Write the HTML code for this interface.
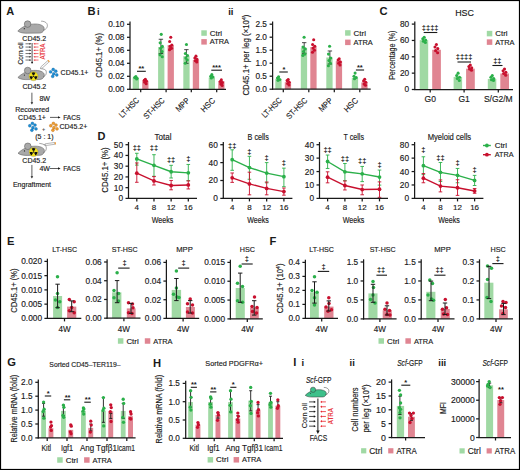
<!DOCTYPE html><html><head><meta charset="utf-8"><style>html,body{margin:0;padding:0;background:#fff;}svg{display:block;}text{font-family:"Liberation Sans", sans-serif;}</style></head><body>
<svg width="520" height="470" viewBox="0 0 520 470" fill="#1a1a1a">
<rect x="0" y="0" width="520" height="470" fill="#fff"/>
<text x="87.6" y="14.9" font-size="11.2" font-weight="bold">B</text>
<text x="97" y="14.9" font-size="9.5" font-weight="bold">i</text>
<rect x="132.7" y="77.6" width="6.3" height="11.7" fill="#a0d9a4"/>
<rect x="142.2" y="80.85" width="6.3" height="8.45" fill="#e08592"/>
<rect x="158.1" y="47.05" width="6.3" height="42.25" fill="#a0d9a4"/>
<rect x="167.6" y="45.1" width="6.3" height="44.2" fill="#e08592"/>
<rect x="183.3" y="56.15" width="6.3" height="33.15" fill="#a0d9a4"/>
<rect x="192.8" y="60.05" width="6.3" height="29.25" fill="#e08592"/>
<rect x="208.7" y="77.6" width="6.3" height="11.7" fill="#a0d9a4"/>
<rect x="218.2" y="81.24" width="6.3" height="8.06" fill="#e08592"/>
<line x1="160.9" y1="39.25" x2="160.9" y2="53.55" stroke="#1a1a1a" stroke-width="0.8"/>
<line x1="158.7" y1="39.25" x2="163.1" y2="39.25" stroke="#1a1a1a" stroke-width="0.8"/>
<line x1="158.7" y1="53.55" x2="163.1" y2="53.55" stroke="#1a1a1a" stroke-width="0.8"/>
<line x1="186.4" y1="49.65" x2="186.4" y2="63.3" stroke="#1a1a1a" stroke-width="0.8"/>
<line x1="184.2" y1="49.65" x2="188.6" y2="49.65" stroke="#1a1a1a" stroke-width="0.8"/>
<line x1="184.2" y1="63.3" x2="188.6" y2="63.3" stroke="#1a1a1a" stroke-width="0.8"/>
<line x1="130" y1="21.6" x2="130" y2="89.9" stroke="#1a1a1a" stroke-width="1.25"/>
<line x1="127" y1="89.3" x2="130" y2="89.3" stroke="#1a1a1a" stroke-width="1.25"/>
<text x="124.4" y="92.29" font-size="8.3" text-anchor="end" stroke="#1a1a1a" stroke-width="0.15">0.00</text>
<line x1="127" y1="76.3" x2="130" y2="76.3" stroke="#1a1a1a" stroke-width="1.25"/>
<text x="124.4" y="79.29" font-size="8.3" text-anchor="end" stroke="#1a1a1a" stroke-width="0.15">0.02</text>
<line x1="127" y1="63.3" x2="130" y2="63.3" stroke="#1a1a1a" stroke-width="1.25"/>
<text x="124.4" y="66.29" font-size="8.3" text-anchor="end" stroke="#1a1a1a" stroke-width="0.15">0.04</text>
<line x1="127" y1="50.3" x2="130" y2="50.3" stroke="#1a1a1a" stroke-width="1.25"/>
<text x="124.4" y="53.29" font-size="8.3" text-anchor="end" stroke="#1a1a1a" stroke-width="0.15">0.06</text>
<line x1="127" y1="37.3" x2="130" y2="37.3" stroke="#1a1a1a" stroke-width="1.25"/>
<text x="124.4" y="40.29" font-size="8.3" text-anchor="end" stroke="#1a1a1a" stroke-width="0.15">0.08</text>
<line x1="127" y1="24.3" x2="130" y2="24.3" stroke="#1a1a1a" stroke-width="1.25"/>
<text x="124.4" y="27.29" font-size="8.3" text-anchor="end" stroke="#1a1a1a" stroke-width="0.15">0.10</text>
<line x1="129.4" y1="89.3" x2="226" y2="89.3" stroke="#1a1a1a" stroke-width="1.25"/>
<line x1="140.7" y1="89.3" x2="140.7" y2="92.3" stroke="#1a1a1a" stroke-width="1.25"/>
<line x1="166.1" y1="89.3" x2="166.1" y2="92.3" stroke="#1a1a1a" stroke-width="1.25"/>
<line x1="191.3" y1="89.3" x2="191.3" y2="92.3" stroke="#1a1a1a" stroke-width="1.25"/>
<line x1="216.7" y1="89.3" x2="216.7" y2="92.3" stroke="#1a1a1a" stroke-width="1.25"/>
<circle cx="135.85" cy="76.62" r="1.55" fill="#2bb04a"/>
<circle cx="134.75" cy="77.6" r="1.55" fill="#2bb04a"/>
<circle cx="136.95" cy="78.25" r="1.55" fill="#2bb04a"/>
<circle cx="135.25" cy="77.28" r="1.55" fill="#2bb04a"/>
<circle cx="136.65" cy="78.9" r="1.55" fill="#2bb04a"/>
<circle cx="145.35" cy="79.22" r="1.55" fill="#c8102e"/>
<circle cx="144.25" cy="80.2" r="1.55" fill="#c8102e"/>
<circle cx="146.45" cy="81.17" r="1.55" fill="#c8102e"/>
<circle cx="144.75" cy="82.15" r="1.55" fill="#c8102e"/>
<circle cx="146.15" cy="83.77" r="1.55" fill="#c8102e"/>
<circle cx="161.25" cy="34.37" r="1.55" fill="#2bb04a"/>
<circle cx="160.15" cy="42.83" r="1.55" fill="#2bb04a"/>
<circle cx="162.35" cy="46.4" r="1.55" fill="#2bb04a"/>
<circle cx="160.65" cy="48.35" r="1.55" fill="#2bb04a"/>
<circle cx="162.05" cy="51.6" r="1.55" fill="#2bb04a"/>
<circle cx="160.05" cy="54.85" r="1.55" fill="#2bb04a"/>
<circle cx="162.25" cy="56.8" r="1.55" fill="#2bb04a"/>
<circle cx="170.75" cy="37.3" r="1.55" fill="#c8102e"/>
<circle cx="169.65" cy="41.52" r="1.55" fill="#c8102e"/>
<circle cx="171.85" cy="45.1" r="1.55" fill="#c8102e"/>
<circle cx="170.15" cy="46.4" r="1.55" fill="#c8102e"/>
<circle cx="171.55" cy="48.35" r="1.55" fill="#c8102e"/>
<circle cx="169.55" cy="49.65" r="1.55" fill="#c8102e"/>
<circle cx="186.45" cy="44.45" r="1.55" fill="#2bb04a"/>
<circle cx="185.35" cy="53.55" r="1.55" fill="#2bb04a"/>
<circle cx="187.55" cy="55.5" r="1.55" fill="#2bb04a"/>
<circle cx="185.85" cy="58.1" r="1.55" fill="#2bb04a"/>
<circle cx="187.25" cy="60.05" r="1.55" fill="#2bb04a"/>
<circle cx="185.25" cy="63.3" r="1.55" fill="#2bb04a"/>
<circle cx="195.95" cy="56.15" r="1.55" fill="#c8102e"/>
<circle cx="194.85" cy="58.1" r="1.55" fill="#c8102e"/>
<circle cx="197.05" cy="59.4" r="1.55" fill="#c8102e"/>
<circle cx="195.35" cy="60.7" r="1.55" fill="#c8102e"/>
<circle cx="196.75" cy="62" r="1.55" fill="#c8102e"/>
<circle cx="211.85" cy="74.67" r="1.55" fill="#2bb04a"/>
<circle cx="210.75" cy="76.3" r="1.55" fill="#2bb04a"/>
<circle cx="212.95" cy="76.95" r="1.55" fill="#2bb04a"/>
<circle cx="211.25" cy="77.92" r="1.55" fill="#2bb04a"/>
<circle cx="221.35" cy="79.88" r="1.55" fill="#c8102e"/>
<circle cx="220.25" cy="81.5" r="1.55" fill="#c8102e"/>
<circle cx="222.45" cy="82.47" r="1.55" fill="#c8102e"/>
<circle cx="220.75" cy="84.1" r="1.55" fill="#c8102e"/>
<circle cx="222.15" cy="85.4" r="1.55" fill="#c8102e"/>
<text x="101.9" y="55.35" font-size="8.3" text-anchor="middle" stroke="#1a1a1a" stroke-width="0.15" transform="rotate(-90 101.9 55.35)" textLength="44.6" lengthAdjust="spacingAndGlyphs">CD45.1+ (%)</text>
<text x="141.3" y="71" font-size="7.5" text-anchor="middle" font-weight="bold">**</text>
<line x1="137" y1="71.3" x2="145.8" y2="71.3" stroke="#1a1a1a" stroke-width="1.1"/>
<text x="216.6" y="69.9" font-size="7.5" text-anchor="middle" font-weight="bold">***</text>
<line x1="211.3" y1="70.2" x2="222" y2="70.2" stroke="#1a1a1a" stroke-width="1.1"/>
<rect x="201.3" y="30.3" width="5.5" height="5.5" fill="#a0d9a4"/>
<text x="209.8" y="35.69" font-size="8" stroke="#1a1a1a" stroke-width="0.15" textLength="12.3" lengthAdjust="spacingAndGlyphs">Ctrl</text>
<rect x="201.3" y="39.1" width="5.5" height="5.5" fill="#e08592"/>
<text x="209.8" y="44.49" font-size="8" stroke="#1a1a1a" stroke-width="0.15" textLength="19.2" lengthAdjust="spacingAndGlyphs">ATRA</text>
<text x="228.2" y="14.9" font-size="9.5" font-weight="bold">ii</text>
<rect x="275.3" y="78.8" width="6.3" height="10.4" fill="#a0d9a4"/>
<rect x="284.8" y="82.18" width="6.3" height="7.02" fill="#e08592"/>
<rect x="300.8" y="48.12" width="6.3" height="41.08" fill="#a0d9a4"/>
<rect x="310.3" y="47.08" width="6.3" height="42.12" fill="#e08592"/>
<rect x="326.3" y="57.48" width="6.3" height="31.72" fill="#a0d9a4"/>
<rect x="335.8" y="61.12" width="6.3" height="28.08" fill="#e08592"/>
<rect x="351.8" y="78.02" width="6.3" height="11.18" fill="#a0d9a4"/>
<rect x="361.3" y="82.44" width="6.3" height="6.76" fill="#e08592"/>
<line x1="304.2" y1="42.66" x2="304.2" y2="53.32" stroke="#1a1a1a" stroke-width="0.8"/>
<line x1="302" y1="42.66" x2="306.4" y2="42.66" stroke="#1a1a1a" stroke-width="0.8"/>
<line x1="302" y1="53.32" x2="306.4" y2="53.32" stroke="#1a1a1a" stroke-width="0.8"/>
<line x1="329.9" y1="50.98" x2="329.9" y2="63.98" stroke="#1a1a1a" stroke-width="0.8"/>
<line x1="327.7" y1="50.98" x2="332.1" y2="50.98" stroke="#1a1a1a" stroke-width="0.8"/>
<line x1="327.7" y1="63.98" x2="332.1" y2="63.98" stroke="#1a1a1a" stroke-width="0.8"/>
<line x1="272.6" y1="21.5" x2="272.6" y2="89.8" stroke="#1a1a1a" stroke-width="1.25"/>
<line x1="269.6" y1="89.2" x2="272.6" y2="89.2" stroke="#1a1a1a" stroke-width="1.25"/>
<text x="267" y="92.19" font-size="8.3" text-anchor="end" stroke="#1a1a1a" stroke-width="0.15">0.0</text>
<line x1="269.6" y1="76.2" x2="272.6" y2="76.2" stroke="#1a1a1a" stroke-width="1.25"/>
<text x="267" y="79.19" font-size="8.3" text-anchor="end" stroke="#1a1a1a" stroke-width="0.15">0.5</text>
<line x1="269.6" y1="63.2" x2="272.6" y2="63.2" stroke="#1a1a1a" stroke-width="1.25"/>
<text x="267" y="66.19" font-size="8.3" text-anchor="end" stroke="#1a1a1a" stroke-width="0.15">1.0</text>
<line x1="269.6" y1="50.2" x2="272.6" y2="50.2" stroke="#1a1a1a" stroke-width="1.25"/>
<text x="267" y="53.19" font-size="8.3" text-anchor="end" stroke="#1a1a1a" stroke-width="0.15">1.5</text>
<line x1="269.6" y1="37.2" x2="272.6" y2="37.2" stroke="#1a1a1a" stroke-width="1.25"/>
<text x="267" y="40.19" font-size="8.3" text-anchor="end" stroke="#1a1a1a" stroke-width="0.15">2.0</text>
<line x1="269.6" y1="24.2" x2="272.6" y2="24.2" stroke="#1a1a1a" stroke-width="1.25"/>
<text x="267" y="27.19" font-size="8.3" text-anchor="end" stroke="#1a1a1a" stroke-width="0.15">2.5</text>
<line x1="272" y1="89.2" x2="370.7" y2="89.2" stroke="#1a1a1a" stroke-width="1.25"/>
<line x1="283.3" y1="89.2" x2="283.3" y2="92.2" stroke="#1a1a1a" stroke-width="1.25"/>
<line x1="308.8" y1="89.2" x2="308.8" y2="92.2" stroke="#1a1a1a" stroke-width="1.25"/>
<line x1="334.3" y1="89.2" x2="334.3" y2="92.2" stroke="#1a1a1a" stroke-width="1.25"/>
<line x1="359.8" y1="89.2" x2="359.8" y2="92.2" stroke="#1a1a1a" stroke-width="1.25"/>
<circle cx="278.6" cy="76.72" r="1.55" fill="#2bb04a"/>
<circle cx="277.5" cy="78.02" r="1.55" fill="#2bb04a"/>
<circle cx="279.7" cy="79.58" r="1.55" fill="#2bb04a"/>
<circle cx="278" cy="80.36" r="1.55" fill="#2bb04a"/>
<circle cx="288.2" cy="79.58" r="1.55" fill="#c8102e"/>
<circle cx="287.1" cy="80.62" r="1.55" fill="#c8102e"/>
<circle cx="289.3" cy="82.18" r="1.55" fill="#c8102e"/>
<circle cx="287.6" cy="83.48" r="1.55" fill="#c8102e"/>
<circle cx="289" cy="85.04" r="1.55" fill="#c8102e"/>
<circle cx="304.1" cy="37.2" r="1.55" fill="#2bb04a"/>
<circle cx="303" cy="47.08" r="1.55" fill="#2bb04a"/>
<circle cx="305.2" cy="48.9" r="1.55" fill="#2bb04a"/>
<circle cx="303.5" cy="51.5" r="1.55" fill="#2bb04a"/>
<circle cx="304.9" cy="54.1" r="1.55" fill="#2bb04a"/>
<circle cx="302.9" cy="55.4" r="1.55" fill="#2bb04a"/>
<circle cx="313.7" cy="39.8" r="1.55" fill="#c8102e"/>
<circle cx="312.6" cy="44.48" r="1.55" fill="#c8102e"/>
<circle cx="314.8" cy="46.3" r="1.55" fill="#c8102e"/>
<circle cx="313.1" cy="48.12" r="1.55" fill="#c8102e"/>
<circle cx="314.5" cy="50.2" r="1.55" fill="#c8102e"/>
<circle cx="312.5" cy="52.28" r="1.55" fill="#c8102e"/>
<circle cx="329.6" cy="46.3" r="1.55" fill="#2bb04a"/>
<circle cx="328.5" cy="54.1" r="1.55" fill="#2bb04a"/>
<circle cx="330.7" cy="58" r="1.55" fill="#2bb04a"/>
<circle cx="329" cy="60.6" r="1.55" fill="#2bb04a"/>
<circle cx="330.4" cy="63.2" r="1.55" fill="#2bb04a"/>
<circle cx="328.4" cy="65.8" r="1.55" fill="#2bb04a"/>
<circle cx="339.2" cy="58.78" r="1.55" fill="#c8102e"/>
<circle cx="338.1" cy="60.08" r="1.55" fill="#c8102e"/>
<circle cx="340.3" cy="61.9" r="1.55" fill="#c8102e"/>
<circle cx="338.6" cy="63.2" r="1.55" fill="#c8102e"/>
<circle cx="340" cy="65.02" r="1.55" fill="#c8102e"/>
<circle cx="355.1" cy="73.08" r="1.55" fill="#2bb04a"/>
<circle cx="354" cy="76.2" r="1.55" fill="#2bb04a"/>
<circle cx="356.2" cy="77.5" r="1.55" fill="#2bb04a"/>
<circle cx="354.5" cy="78.8" r="1.55" fill="#2bb04a"/>
<circle cx="364.7" cy="79.32" r="1.55" fill="#c8102e"/>
<circle cx="363.6" cy="80.88" r="1.55" fill="#c8102e"/>
<circle cx="365.8" cy="82.18" r="1.55" fill="#c8102e"/>
<circle cx="364.1" cy="84" r="1.55" fill="#c8102e"/>
<circle cx="365.5" cy="85.3" r="1.55" fill="#c8102e"/>
<text x="249.4" y="55.1" font-size="8.3" text-anchor="middle" stroke="#1a1a1a" stroke-width="0.15" transform="rotate(-90 249.4 55.1)" textLength="81" lengthAdjust="spacingAndGlyphs">CD45.1+ per leg (×10<tspan dy="-3" font-size="5.5">4</tspan><tspan dy="3">)</tspan></text>
<text x="283.9" y="71.7" font-size="7.5" text-anchor="middle" font-weight="bold">*</text>
<line x1="279.3" y1="72" x2="287.8" y2="72" stroke="#1a1a1a" stroke-width="1.1"/>
<text x="359.8" y="69.7" font-size="7.5" text-anchor="middle" font-weight="bold">**</text>
<line x1="355.9" y1="70" x2="364.1" y2="70" stroke="#1a1a1a" stroke-width="1.1"/>
<rect x="345.1" y="30.2" width="5.5" height="5.5" fill="#a0d9a4"/>
<text x="353.6" y="35.59" font-size="8" stroke="#1a1a1a" stroke-width="0.15" textLength="12.3" lengthAdjust="spacingAndGlyphs">Ctrl</text>
<rect x="345.1" y="39.6" width="5.5" height="5.5" fill="#e08592"/>
<text x="353.6" y="44.99" font-size="8" stroke="#1a1a1a" stroke-width="0.15" textLength="19.2" lengthAdjust="spacingAndGlyphs">ATRA</text>
<text x="379.6" y="14.9" font-size="11.2" font-weight="bold">C</text>
<text x="464.6" y="15.8" font-size="9.7" text-anchor="middle" stroke="#1a1a1a" stroke-width="0.15" textLength="18.8" lengthAdjust="spacingAndGlyphs">HSC</text>
<rect x="419.7" y="40.12" width="8.5" height="49.38" fill="#a0d9a4"/>
<rect x="432.2" y="49.77" width="8.7" height="39.73" fill="#e08592"/>
<rect x="453.6" y="76.91" width="8.5" height="12.59" fill="#a0d9a4"/>
<rect x="466.1" y="68.65" width="8.7" height="20.85" fill="#e08592"/>
<rect x="487.8" y="78.95" width="8.5" height="10.55" fill="#a0d9a4"/>
<rect x="500.3" y="73.48" width="8.7" height="16.02" fill="#e08592"/>
<line x1="414.8" y1="21.4" x2="414.8" y2="90.1" stroke="#1a1a1a" stroke-width="1.25"/>
<line x1="411.8" y1="89.5" x2="414.8" y2="89.5" stroke="#1a1a1a" stroke-width="1.25"/>
<text x="409.2" y="92.49" font-size="8.3" text-anchor="end" stroke="#1a1a1a" stroke-width="0.15">0</text>
<line x1="411.8" y1="73.15" x2="414.8" y2="73.15" stroke="#1a1a1a" stroke-width="1.25"/>
<text x="409.2" y="76.14" font-size="8.3" text-anchor="end" stroke="#1a1a1a" stroke-width="0.15">20</text>
<line x1="411.8" y1="56.8" x2="414.8" y2="56.8" stroke="#1a1a1a" stroke-width="1.25"/>
<text x="409.2" y="59.79" font-size="8.3" text-anchor="end" stroke="#1a1a1a" stroke-width="0.15">40</text>
<line x1="411.8" y1="40.45" x2="414.8" y2="40.45" stroke="#1a1a1a" stroke-width="1.25"/>
<text x="409.2" y="43.44" font-size="8.3" text-anchor="end" stroke="#1a1a1a" stroke-width="0.15">60</text>
<line x1="411.8" y1="24.1" x2="414.8" y2="24.1" stroke="#1a1a1a" stroke-width="1.25"/>
<text x="409.2" y="27.09" font-size="8.3" text-anchor="end" stroke="#1a1a1a" stroke-width="0.15">80</text>
<line x1="414.2" y1="89.5" x2="513" y2="89.5" stroke="#1a1a1a" stroke-width="1.25"/>
<line x1="430.2" y1="89.5" x2="430.2" y2="92.5" stroke="#1a1a1a" stroke-width="1.25"/>
<line x1="464.1" y1="89.5" x2="464.1" y2="92.5" stroke="#1a1a1a" stroke-width="1.25"/>
<line x1="498.3" y1="89.5" x2="498.3" y2="92.5" stroke="#1a1a1a" stroke-width="1.25"/>
<circle cx="424.2" cy="37.18" r="1.55" fill="#2bb04a"/>
<circle cx="422.8" cy="38.81" r="1.55" fill="#2bb04a"/>
<circle cx="425.6" cy="40.04" r="1.55" fill="#2bb04a"/>
<circle cx="423.4" cy="41.27" r="1.55" fill="#2bb04a"/>
<circle cx="425.4" cy="42.49" r="1.55" fill="#2bb04a"/>
<circle cx="436.4" cy="44.54" r="1.55" fill="#c8102e"/>
<circle cx="435" cy="46.99" r="1.55" fill="#c8102e"/>
<circle cx="437.8" cy="48.62" r="1.55" fill="#c8102e"/>
<circle cx="435.6" cy="50.67" r="1.55" fill="#c8102e"/>
<circle cx="437.6" cy="52.71" r="1.55" fill="#c8102e"/>
<circle cx="458.1" cy="73.15" r="1.55" fill="#2bb04a"/>
<circle cx="456.7" cy="75.6" r="1.55" fill="#2bb04a"/>
<circle cx="459.5" cy="77.24" r="1.55" fill="#2bb04a"/>
<circle cx="457.3" cy="78.46" r="1.55" fill="#2bb04a"/>
<circle cx="459.3" cy="80.51" r="1.55" fill="#2bb04a"/>
<circle cx="470.3" cy="64.97" r="1.55" fill="#c8102e"/>
<circle cx="468.9" cy="66.61" r="1.55" fill="#c8102e"/>
<circle cx="471.7" cy="67.84" r="1.55" fill="#c8102e"/>
<circle cx="469.5" cy="69.06" r="1.55" fill="#c8102e"/>
<circle cx="471.5" cy="70.29" r="1.55" fill="#c8102e"/>
<circle cx="492.3" cy="75.6" r="1.55" fill="#2bb04a"/>
<circle cx="490.9" cy="77.24" r="1.55" fill="#2bb04a"/>
<circle cx="493.7" cy="78.46" r="1.55" fill="#2bb04a"/>
<circle cx="491.5" cy="79.69" r="1.55" fill="#2bb04a"/>
<circle cx="493.5" cy="80.51" r="1.55" fill="#2bb04a"/>
<circle cx="504.5" cy="69.06" r="1.55" fill="#c8102e"/>
<circle cx="503.1" cy="70.7" r="1.55" fill="#c8102e"/>
<circle cx="505.9" cy="72.33" r="1.55" fill="#c8102e"/>
<circle cx="503.7" cy="73.56" r="1.55" fill="#c8102e"/>
<circle cx="505.7" cy="75.19" r="1.55" fill="#c8102e"/>
<text x="395.3" y="55.2" font-size="8.3" text-anchor="middle" stroke="#1a1a1a" stroke-width="0.15" transform="rotate(-90 395.3 55.2)" textLength="49.3" lengthAdjust="spacingAndGlyphs">Percentage (%)</text>
<text x="430.2" y="29.65" font-size="7.5" text-anchor="middle" font-weight="bold">‡‡‡‡</text>
<line x1="423.7" y1="32.5" x2="437.3" y2="32.5" stroke="#1a1a1a" stroke-width="1.1"/>
<text x="464.1" y="59.15" font-size="7.5" text-anchor="middle" font-weight="bold">‡‡‡‡</text>
<line x1="457.5" y1="62" x2="471" y2="62" stroke="#1a1a1a" stroke-width="1.1"/>
<text x="497.3" y="62.65" font-size="7.5" text-anchor="middle" font-weight="bold">‡‡</text>
<line x1="492.4" y1="65.5" x2="502.5" y2="65.5" stroke="#1a1a1a" stroke-width="1.1"/>
<rect x="486.8" y="30.85" width="5.5" height="5.5" fill="#a0d9a4"/>
<text x="495.3" y="36.24" font-size="8" stroke="#1a1a1a" stroke-width="0.15" textLength="12.3" lengthAdjust="spacingAndGlyphs">Ctrl</text>
<rect x="486.8" y="39.35" width="5.5" height="5.5" fill="#e08592"/>
<text x="495.3" y="44.74" font-size="8" stroke="#1a1a1a" stroke-width="0.15" textLength="19.2" lengthAdjust="spacingAndGlyphs">ATRA</text>
<text x="430.2" y="101.9" font-size="8.5" text-anchor="middle" stroke="#1a1a1a" stroke-width="0.15">G0</text>
<text x="464.1" y="101.9" font-size="8.5" text-anchor="middle" stroke="#1a1a1a" stroke-width="0.15">G1</text>
<text x="498.3" y="101.9" font-size="8.5" text-anchor="middle" stroke="#1a1a1a" stroke-width="0.15">S/G2/M</text>
<text x="139.7" y="101" font-size="8.2" text-anchor="end" stroke="#1a1a1a" stroke-width="0.15" transform="rotate(-45 139.7 101)" textLength="24.5" lengthAdjust="spacingAndGlyphs">LT-HSC</text>
<text x="165.1" y="101" font-size="8.2" text-anchor="end" stroke="#1a1a1a" stroke-width="0.15" transform="rotate(-45 165.1 101)" textLength="26" lengthAdjust="spacingAndGlyphs">ST-HSC</text>
<text x="190.3" y="101" font-size="8.2" text-anchor="end" stroke="#1a1a1a" stroke-width="0.15" transform="rotate(-45 190.3 101)" textLength="16" lengthAdjust="spacingAndGlyphs">MPP</text>
<text x="215.7" y="101" font-size="8.2" text-anchor="end" stroke="#1a1a1a" stroke-width="0.15" transform="rotate(-45 215.7 101)" textLength="16.5" lengthAdjust="spacingAndGlyphs">HSC</text>
<text x="282.3" y="101" font-size="8.2" text-anchor="end" stroke="#1a1a1a" stroke-width="0.15" transform="rotate(-45 282.3 101)" textLength="24.5" lengthAdjust="spacingAndGlyphs">LT-HSC</text>
<text x="307.8" y="101" font-size="8.2" text-anchor="end" stroke="#1a1a1a" stroke-width="0.15" transform="rotate(-45 307.8 101)" textLength="26" lengthAdjust="spacingAndGlyphs">ST-HSC</text>
<text x="333.3" y="101" font-size="8.2" text-anchor="end" stroke="#1a1a1a" stroke-width="0.15" transform="rotate(-45 333.3 101)" textLength="16" lengthAdjust="spacingAndGlyphs">MPP</text>
<text x="358.8" y="101" font-size="8.2" text-anchor="end" stroke="#1a1a1a" stroke-width="0.15" transform="rotate(-45 358.8 101)" textLength="16.5" lengthAdjust="spacingAndGlyphs">HSC</text>
<text x="97.5" y="140" font-size="11" font-weight="bold">D</text>
<text x="107.9" y="170.05" font-size="8.3" text-anchor="middle" stroke="#1a1a1a" stroke-width="0.15" transform="rotate(-90 107.9 170.05)" textLength="45.2" lengthAdjust="spacingAndGlyphs">CD45.1+ (%)</text>
<line x1="136.8" y1="153.29" x2="136.8" y2="165.11" stroke="#2bb04a" stroke-width="0.9"/>
<line x1="135" y1="153.29" x2="138.6" y2="153.29" stroke="#2bb04a" stroke-width="0.9"/>
<line x1="135" y1="165.11" x2="138.6" y2="165.11" stroke="#2bb04a" stroke-width="0.9"/>
<line x1="153.97" y1="154.69" x2="153.97" y2="176.28" stroke="#2bb04a" stroke-width="0.9"/>
<line x1="152.17" y1="154.69" x2="155.77" y2="154.69" stroke="#2bb04a" stroke-width="0.9"/>
<line x1="152.17" y1="176.28" x2="155.77" y2="176.28" stroke="#2bb04a" stroke-width="0.9"/>
<line x1="171.13" y1="165.32" x2="171.13" y2="177.99" stroke="#2bb04a" stroke-width="0.9"/>
<line x1="169.33" y1="165.32" x2="172.93" y2="165.32" stroke="#2bb04a" stroke-width="0.9"/>
<line x1="169.33" y1="177.99" x2="172.93" y2="177.99" stroke="#2bb04a" stroke-width="0.9"/>
<line x1="188.3" y1="164.46" x2="188.3" y2="180.68" stroke="#2bb04a" stroke-width="0.9"/>
<line x1="186.5" y1="164.46" x2="190.1" y2="164.46" stroke="#2bb04a" stroke-width="0.9"/>
<line x1="186.5" y1="180.68" x2="190.1" y2="180.68" stroke="#2bb04a" stroke-width="0.9"/>
<line x1="136.8" y1="162.96" x2="136.8" y2="182.29" stroke="#c8102e" stroke-width="0.9"/>
<line x1="135" y1="162.96" x2="138.6" y2="162.96" stroke="#c8102e" stroke-width="0.9"/>
<line x1="135" y1="182.29" x2="138.6" y2="182.29" stroke="#c8102e" stroke-width="0.9"/>
<line x1="153.97" y1="176.6" x2="153.97" y2="184.97" stroke="#c8102e" stroke-width="0.9"/>
<line x1="152.17" y1="176.6" x2="155.77" y2="176.6" stroke="#c8102e" stroke-width="0.9"/>
<line x1="152.17" y1="184.97" x2="155.77" y2="184.97" stroke="#c8102e" stroke-width="0.9"/>
<line x1="171.13" y1="180.46" x2="171.13" y2="189.81" stroke="#c8102e" stroke-width="0.9"/>
<line x1="169.33" y1="180.46" x2="172.93" y2="180.46" stroke="#c8102e" stroke-width="0.9"/>
<line x1="169.33" y1="189.81" x2="172.93" y2="189.81" stroke="#c8102e" stroke-width="0.9"/>
<line x1="188.3" y1="180.89" x2="188.3" y2="188.95" stroke="#c8102e" stroke-width="0.9"/>
<line x1="186.5" y1="180.89" x2="190.1" y2="180.89" stroke="#c8102e" stroke-width="0.9"/>
<line x1="186.5" y1="188.95" x2="190.1" y2="188.95" stroke="#c8102e" stroke-width="0.9"/>
<path d="M136.8,158.88 L153.97,165.32 L171.13,171.76 L188.3,172.84" fill="none" stroke="#2bb04a" stroke-width="1.4"/>
<circle cx="136.8" cy="158.88" r="1.9" fill="#2bb04a"/>
<circle cx="153.97" cy="165.32" r="1.9" fill="#2bb04a"/>
<circle cx="171.13" cy="171.76" r="1.9" fill="#2bb04a"/>
<circle cx="188.3" cy="172.84" r="1.9" fill="#2bb04a"/>
<path d="M136.8,173.16 L153.97,180.89 L171.13,185.51 L188.3,184.97" fill="none" stroke="#c8102e" stroke-width="1.4"/>
<circle cx="136.8" cy="173.16" r="1.9" fill="#c8102e"/>
<circle cx="153.97" cy="180.89" r="1.9" fill="#c8102e"/>
<circle cx="171.13" cy="185.51" r="1.9" fill="#c8102e"/>
<circle cx="188.3" cy="184.97" r="1.9" fill="#c8102e"/>
<line x1="128.5" y1="142" x2="128.5" y2="199" stroke="#1a1a1a" stroke-width="1.25"/>
<line x1="125.5" y1="198.4" x2="128.5" y2="198.4" stroke="#1a1a1a" stroke-width="1.25"/>
<text x="123" y="201.39" font-size="8.3" text-anchor="end" stroke="#1a1a1a" stroke-width="0.15">0</text>
<line x1="125.5" y1="187.66" x2="128.5" y2="187.66" stroke="#1a1a1a" stroke-width="1.25"/>
<text x="123" y="190.65" font-size="8.3" text-anchor="end" stroke="#1a1a1a" stroke-width="0.15">10</text>
<line x1="125.5" y1="176.92" x2="128.5" y2="176.92" stroke="#1a1a1a" stroke-width="1.25"/>
<text x="123" y="179.91" font-size="8.3" text-anchor="end" stroke="#1a1a1a" stroke-width="0.15">20</text>
<line x1="125.5" y1="166.18" x2="128.5" y2="166.18" stroke="#1a1a1a" stroke-width="1.25"/>
<text x="123" y="169.17" font-size="8.3" text-anchor="end" stroke="#1a1a1a" stroke-width="0.15">30</text>
<line x1="125.5" y1="155.44" x2="128.5" y2="155.44" stroke="#1a1a1a" stroke-width="1.25"/>
<text x="123" y="158.43" font-size="8.3" text-anchor="end" stroke="#1a1a1a" stroke-width="0.15">40</text>
<line x1="125.5" y1="144.7" x2="128.5" y2="144.7" stroke="#1a1a1a" stroke-width="1.25"/>
<text x="123" y="147.69" font-size="8.3" text-anchor="end" stroke="#1a1a1a" stroke-width="0.15">50</text>
<line x1="127.9" y1="198.4" x2="197" y2="198.4" stroke="#1a1a1a" stroke-width="1.25"/>
<line x1="136.8" y1="198.4" x2="136.8" y2="201.4" stroke="#1a1a1a" stroke-width="1.25"/>
<line x1="153.97" y1="198.4" x2="153.97" y2="201.4" stroke="#1a1a1a" stroke-width="1.25"/>
<line x1="171.13" y1="198.4" x2="171.13" y2="201.4" stroke="#1a1a1a" stroke-width="1.25"/>
<line x1="188.3" y1="198.4" x2="188.3" y2="201.4" stroke="#1a1a1a" stroke-width="1.25"/>
<text x="136.8" y="209.8" font-size="8" text-anchor="middle" stroke="#1a1a1a" stroke-width="0.15">4</text>
<text x="153.97" y="209.8" font-size="8" text-anchor="middle" stroke="#1a1a1a" stroke-width="0.15">8</text>
<text x="171.13" y="209.8" font-size="8" text-anchor="middle" stroke="#1a1a1a" stroke-width="0.15">12</text>
<text x="188.3" y="209.8" font-size="8" text-anchor="middle" stroke="#1a1a1a" stroke-width="0.15">16</text>
<text x="162.55" y="223.1" font-size="8.9" text-anchor="middle" stroke="#1a1a1a" stroke-width="0.15" textLength="21.6" lengthAdjust="spacingAndGlyphs">Weeks</text>
<text x="163.1" y="139.8" font-size="8.2" text-anchor="middle" stroke="#1a1a1a" stroke-width="0.15" textLength="17" lengthAdjust="spacingAndGlyphs">Total</text>
<text x="136.8" y="149.8" font-size="7.5" text-anchor="middle" font-weight="bold">‡‡</text>
<text x="153.97" y="149.8" font-size="7.5" text-anchor="middle" font-weight="bold">‡‡</text>
<text x="171.13" y="162" font-size="7.5" text-anchor="middle" font-weight="bold">‡‡</text>
<text x="188.3" y="160.9" font-size="7.5" text-anchor="middle" font-weight="bold">‡</text>
<line x1="232.2" y1="149.8" x2="232.2" y2="170.3" stroke="#2bb04a" stroke-width="0.9"/>
<line x1="230.4" y1="149.8" x2="234" y2="149.8" stroke="#2bb04a" stroke-width="0.9"/>
<line x1="230.4" y1="170.3" x2="234" y2="170.3" stroke="#2bb04a" stroke-width="0.9"/>
<line x1="249.43" y1="156.33" x2="249.43" y2="179.25" stroke="#2bb04a" stroke-width="0.9"/>
<line x1="247.63" y1="156.33" x2="251.23" y2="156.33" stroke="#2bb04a" stroke-width="0.9"/>
<line x1="247.63" y1="179.25" x2="251.23" y2="179.25" stroke="#2bb04a" stroke-width="0.9"/>
<line x1="266.67" y1="162.6" x2="266.67" y2="182.83" stroke="#2bb04a" stroke-width="0.9"/>
<line x1="264.87" y1="162.6" x2="268.47" y2="162.6" stroke="#2bb04a" stroke-width="0.9"/>
<line x1="264.87" y1="182.83" x2="268.47" y2="182.83" stroke="#2bb04a" stroke-width="0.9"/>
<line x1="283.9" y1="168.15" x2="283.9" y2="186.68" stroke="#2bb04a" stroke-width="0.9"/>
<line x1="282.1" y1="168.15" x2="285.7" y2="168.15" stroke="#2bb04a" stroke-width="0.9"/>
<line x1="282.1" y1="186.68" x2="285.7" y2="186.68" stroke="#2bb04a" stroke-width="0.9"/>
<line x1="232.2" y1="172.98" x2="232.2" y2="182.38" stroke="#c8102e" stroke-width="0.9"/>
<line x1="230.4" y1="172.98" x2="234" y2="172.98" stroke="#c8102e" stroke-width="0.9"/>
<line x1="230.4" y1="182.38" x2="234" y2="182.38" stroke="#c8102e" stroke-width="0.9"/>
<line x1="249.43" y1="172.18" x2="249.43" y2="194.82" stroke="#c8102e" stroke-width="0.9"/>
<line x1="247.63" y1="172.18" x2="251.23" y2="172.18" stroke="#c8102e" stroke-width="0.9"/>
<line x1="247.63" y1="194.82" x2="251.23" y2="194.82" stroke="#c8102e" stroke-width="0.9"/>
<line x1="266.67" y1="182.02" x2="266.67" y2="194.82" stroke="#c8102e" stroke-width="0.9"/>
<line x1="264.87" y1="182.02" x2="268.47" y2="182.02" stroke="#c8102e" stroke-width="0.9"/>
<line x1="264.87" y1="194.82" x2="268.47" y2="194.82" stroke="#c8102e" stroke-width="0.9"/>
<line x1="283.9" y1="188.02" x2="283.9" y2="195.18" stroke="#c8102e" stroke-width="0.9"/>
<line x1="282.1" y1="188.02" x2="285.7" y2="188.02" stroke="#c8102e" stroke-width="0.9"/>
<line x1="282.1" y1="195.18" x2="285.7" y2="195.18" stroke="#c8102e" stroke-width="0.9"/>
<path d="M232.2,159.65 L249.43,167.61 L266.67,173.07 L283.9,176.65" fill="none" stroke="#2bb04a" stroke-width="1.4"/>
<circle cx="232.2" cy="159.65" r="1.9" fill="#2bb04a"/>
<circle cx="249.43" cy="167.61" r="1.9" fill="#2bb04a"/>
<circle cx="266.67" cy="173.07" r="1.9" fill="#2bb04a"/>
<circle cx="283.9" cy="176.65" r="1.9" fill="#2bb04a"/>
<path d="M232.2,177.81 L249.43,183.9 L266.67,188.38 L283.9,191.6" fill="none" stroke="#c8102e" stroke-width="1.4"/>
<circle cx="232.2" cy="177.81" r="1.9" fill="#c8102e"/>
<circle cx="249.43" cy="183.9" r="1.9" fill="#c8102e"/>
<circle cx="266.67" cy="188.38" r="1.9" fill="#c8102e"/>
<circle cx="283.9" cy="191.6" r="1.9" fill="#c8102e"/>
<line x1="223.3" y1="142" x2="223.3" y2="199" stroke="#1a1a1a" stroke-width="1.25"/>
<line x1="220.3" y1="198.4" x2="223.3" y2="198.4" stroke="#1a1a1a" stroke-width="1.25"/>
<text x="217.8" y="201.39" font-size="8.3" text-anchor="end" stroke="#1a1a1a" stroke-width="0.15">0</text>
<line x1="220.3" y1="180.5" x2="223.3" y2="180.5" stroke="#1a1a1a" stroke-width="1.25"/>
<text x="217.8" y="183.49" font-size="8.3" text-anchor="end" stroke="#1a1a1a" stroke-width="0.15">20</text>
<line x1="220.3" y1="162.6" x2="223.3" y2="162.6" stroke="#1a1a1a" stroke-width="1.25"/>
<text x="217.8" y="165.59" font-size="8.3" text-anchor="end" stroke="#1a1a1a" stroke-width="0.15">40</text>
<line x1="220.3" y1="144.7" x2="223.3" y2="144.7" stroke="#1a1a1a" stroke-width="1.25"/>
<text x="217.8" y="147.69" font-size="8.3" text-anchor="end" stroke="#1a1a1a" stroke-width="0.15">60</text>
<line x1="222.7" y1="198.4" x2="292.4" y2="198.4" stroke="#1a1a1a" stroke-width="1.25"/>
<line x1="232.2" y1="198.4" x2="232.2" y2="201.4" stroke="#1a1a1a" stroke-width="1.25"/>
<line x1="249.43" y1="198.4" x2="249.43" y2="201.4" stroke="#1a1a1a" stroke-width="1.25"/>
<line x1="266.67" y1="198.4" x2="266.67" y2="201.4" stroke="#1a1a1a" stroke-width="1.25"/>
<line x1="283.9" y1="198.4" x2="283.9" y2="201.4" stroke="#1a1a1a" stroke-width="1.25"/>
<text x="232.2" y="209.8" font-size="8" text-anchor="middle" stroke="#1a1a1a" stroke-width="0.15">4</text>
<text x="249.43" y="209.8" font-size="8" text-anchor="middle" stroke="#1a1a1a" stroke-width="0.15">8</text>
<text x="266.67" y="209.8" font-size="8" text-anchor="middle" stroke="#1a1a1a" stroke-width="0.15">12</text>
<text x="283.9" y="209.8" font-size="8" text-anchor="middle" stroke="#1a1a1a" stroke-width="0.15">16</text>
<text x="258.05" y="223.1" font-size="8.9" text-anchor="middle" stroke="#1a1a1a" stroke-width="0.15" textLength="21.6" lengthAdjust="spacingAndGlyphs">Weeks</text>
<text x="258.2" y="139.8" font-size="8.2" text-anchor="middle" stroke="#1a1a1a" stroke-width="0.15" textLength="21.3" lengthAdjust="spacingAndGlyphs">B cells</text>
<text x="232.2" y="148.1" font-size="7.5" text-anchor="middle" font-weight="bold">‡‡</text>
<text x="249.43" y="153.5" font-size="7.5" text-anchor="middle" font-weight="bold">‡</text>
<text x="266.67" y="159.8" font-size="7.5" text-anchor="middle" font-weight="bold">‡</text>
<text x="283.9" y="164.7" font-size="7.5" text-anchor="middle" font-weight="bold">‡</text>
<line x1="327.6" y1="155.04" x2="327.6" y2="168.46" stroke="#2bb04a" stroke-width="0.9"/>
<line x1="325.8" y1="155.04" x2="329.4" y2="155.04" stroke="#2bb04a" stroke-width="0.9"/>
<line x1="325.8" y1="168.46" x2="329.4" y2="168.46" stroke="#2bb04a" stroke-width="0.9"/>
<line x1="344.9" y1="163.5" x2="344.9" y2="180.68" stroke="#2bb04a" stroke-width="0.9"/>
<line x1="343.1" y1="163.5" x2="346.7" y2="163.5" stroke="#2bb04a" stroke-width="0.9"/>
<line x1="343.1" y1="180.68" x2="346.7" y2="180.68" stroke="#2bb04a" stroke-width="0.9"/>
<line x1="362.2" y1="166.45" x2="362.2" y2="181.62" stroke="#2bb04a" stroke-width="0.9"/>
<line x1="360.4" y1="166.45" x2="364" y2="166.45" stroke="#2bb04a" stroke-width="0.9"/>
<line x1="360.4" y1="181.62" x2="364" y2="181.62" stroke="#2bb04a" stroke-width="0.9"/>
<line x1="379.5" y1="170.07" x2="379.5" y2="185.11" stroke="#2bb04a" stroke-width="0.9"/>
<line x1="377.7" y1="170.07" x2="381.3" y2="170.07" stroke="#2bb04a" stroke-width="0.9"/>
<line x1="377.7" y1="185.11" x2="381.3" y2="185.11" stroke="#2bb04a" stroke-width="0.9"/>
<line x1="327.6" y1="171.82" x2="327.6" y2="182.83" stroke="#c8102e" stroke-width="0.9"/>
<line x1="325.8" y1="171.82" x2="329.4" y2="171.82" stroke="#c8102e" stroke-width="0.9"/>
<line x1="325.8" y1="182.83" x2="329.4" y2="182.83" stroke="#c8102e" stroke-width="0.9"/>
<line x1="344.9" y1="180.95" x2="344.9" y2="189.94" stroke="#c8102e" stroke-width="0.9"/>
<line x1="343.1" y1="180.95" x2="346.7" y2="180.95" stroke="#c8102e" stroke-width="0.9"/>
<line x1="343.1" y1="189.94" x2="346.7" y2="189.94" stroke="#c8102e" stroke-width="0.9"/>
<line x1="362.2" y1="184.97" x2="362.2" y2="194.78" stroke="#c8102e" stroke-width="0.9"/>
<line x1="360.4" y1="184.97" x2="364" y2="184.97" stroke="#c8102e" stroke-width="0.9"/>
<line x1="360.4" y1="194.78" x2="364" y2="194.78" stroke="#c8102e" stroke-width="0.9"/>
<line x1="379.5" y1="181.89" x2="379.5" y2="197.33" stroke="#c8102e" stroke-width="0.9"/>
<line x1="377.7" y1="181.89" x2="381.3" y2="181.89" stroke="#c8102e" stroke-width="0.9"/>
<line x1="377.7" y1="197.33" x2="381.3" y2="197.33" stroke="#c8102e" stroke-width="0.9"/>
<path d="M327.6,161.48 L344.9,171.82 L362.2,173.83 L379.5,177.05" fill="none" stroke="#2bb04a" stroke-width="1.4"/>
<circle cx="327.6" cy="161.48" r="1.9" fill="#2bb04a"/>
<circle cx="344.9" cy="171.82" r="1.9" fill="#2bb04a"/>
<circle cx="362.2" cy="173.83" r="1.9" fill="#2bb04a"/>
<circle cx="379.5" cy="177.05" r="1.9" fill="#2bb04a"/>
<path d="M327.6,177.19 L344.9,185.51 L362.2,189.54 L379.5,189.27" fill="none" stroke="#c8102e" stroke-width="1.4"/>
<circle cx="327.6" cy="177.19" r="1.9" fill="#c8102e"/>
<circle cx="344.9" cy="185.51" r="1.9" fill="#c8102e"/>
<circle cx="362.2" cy="189.54" r="1.9" fill="#c8102e"/>
<circle cx="379.5" cy="189.27" r="1.9" fill="#c8102e"/>
<line x1="319.5" y1="142" x2="319.5" y2="199" stroke="#1a1a1a" stroke-width="1.25"/>
<line x1="316.5" y1="198.4" x2="319.5" y2="198.4" stroke="#1a1a1a" stroke-width="1.25"/>
<text x="314" y="201.39" font-size="8.3" text-anchor="end" stroke="#1a1a1a" stroke-width="0.15">0</text>
<line x1="316.5" y1="184.97" x2="319.5" y2="184.97" stroke="#1a1a1a" stroke-width="1.25"/>
<text x="314" y="187.96" font-size="8.3" text-anchor="end" stroke="#1a1a1a" stroke-width="0.15">10</text>
<line x1="316.5" y1="171.55" x2="319.5" y2="171.55" stroke="#1a1a1a" stroke-width="1.25"/>
<text x="314" y="174.54" font-size="8.3" text-anchor="end" stroke="#1a1a1a" stroke-width="0.15">20</text>
<line x1="316.5" y1="158.12" x2="319.5" y2="158.12" stroke="#1a1a1a" stroke-width="1.25"/>
<text x="314" y="161.11" font-size="8.3" text-anchor="end" stroke="#1a1a1a" stroke-width="0.15">30</text>
<line x1="316.5" y1="144.7" x2="319.5" y2="144.7" stroke="#1a1a1a" stroke-width="1.25"/>
<text x="314" y="147.69" font-size="8.3" text-anchor="end" stroke="#1a1a1a" stroke-width="0.15">40</text>
<line x1="318.9" y1="198.4" x2="388" y2="198.4" stroke="#1a1a1a" stroke-width="1.25"/>
<line x1="327.6" y1="198.4" x2="327.6" y2="201.4" stroke="#1a1a1a" stroke-width="1.25"/>
<line x1="344.9" y1="198.4" x2="344.9" y2="201.4" stroke="#1a1a1a" stroke-width="1.25"/>
<line x1="362.2" y1="198.4" x2="362.2" y2="201.4" stroke="#1a1a1a" stroke-width="1.25"/>
<line x1="379.5" y1="198.4" x2="379.5" y2="201.4" stroke="#1a1a1a" stroke-width="1.25"/>
<text x="327.6" y="209.8" font-size="8" text-anchor="middle" stroke="#1a1a1a" stroke-width="0.15">4</text>
<text x="344.9" y="209.8" font-size="8" text-anchor="middle" stroke="#1a1a1a" stroke-width="0.15">8</text>
<text x="362.2" y="209.8" font-size="8" text-anchor="middle" stroke="#1a1a1a" stroke-width="0.15">12</text>
<text x="379.5" y="209.8" font-size="8" text-anchor="middle" stroke="#1a1a1a" stroke-width="0.15">16</text>
<text x="353.55" y="223.1" font-size="8.9" text-anchor="middle" stroke="#1a1a1a" stroke-width="0.15" textLength="21.6" lengthAdjust="spacingAndGlyphs">Weeks</text>
<text x="353.8" y="139.8" font-size="8.2" text-anchor="middle" stroke="#1a1a1a" stroke-width="0.15" textLength="20.4" lengthAdjust="spacingAndGlyphs">T cells</text>
<text x="327.6" y="151.5" font-size="7.5" text-anchor="middle" font-weight="bold">‡‡</text>
<text x="344.9" y="160.9" font-size="7.5" text-anchor="middle" font-weight="bold">‡‡</text>
<text x="362.2" y="162.6" font-size="7.5" text-anchor="middle" font-weight="bold">‡‡</text>
<text x="379.5" y="167.3" font-size="7.5" text-anchor="middle" font-weight="bold">‡</text>
<line x1="423.4" y1="156.78" x2="423.4" y2="174.64" stroke="#2bb04a" stroke-width="0.9"/>
<line x1="421.6" y1="156.78" x2="425.2" y2="156.78" stroke="#2bb04a" stroke-width="0.9"/>
<line x1="421.6" y1="174.64" x2="425.2" y2="174.64" stroke="#2bb04a" stroke-width="0.9"/>
<line x1="440.47" y1="162.49" x2="440.47" y2="181.48" stroke="#2bb04a" stroke-width="0.9"/>
<line x1="438.67" y1="162.49" x2="442.27" y2="162.49" stroke="#2bb04a" stroke-width="0.9"/>
<line x1="438.67" y1="181.48" x2="442.27" y2="181.48" stroke="#2bb04a" stroke-width="0.9"/>
<line x1="457.53" y1="168.46" x2="457.53" y2="182.76" stroke="#2bb04a" stroke-width="0.9"/>
<line x1="455.73" y1="168.46" x2="459.33" y2="168.46" stroke="#2bb04a" stroke-width="0.9"/>
<line x1="455.73" y1="182.76" x2="459.33" y2="182.76" stroke="#2bb04a" stroke-width="0.9"/>
<line x1="474.6" y1="175.38" x2="474.6" y2="185.51" stroke="#2bb04a" stroke-width="0.9"/>
<line x1="472.8" y1="175.38" x2="476.4" y2="175.38" stroke="#2bb04a" stroke-width="0.9"/>
<line x1="472.8" y1="185.51" x2="476.4" y2="185.51" stroke="#2bb04a" stroke-width="0.9"/>
<line x1="423.4" y1="173.56" x2="423.4" y2="182.76" stroke="#c8102e" stroke-width="0.9"/>
<line x1="421.6" y1="173.56" x2="425.2" y2="173.56" stroke="#c8102e" stroke-width="0.9"/>
<line x1="421.6" y1="182.76" x2="425.2" y2="182.76" stroke="#c8102e" stroke-width="0.9"/>
<line x1="440.47" y1="179.94" x2="440.47" y2="191.89" stroke="#c8102e" stroke-width="0.9"/>
<line x1="438.67" y1="179.94" x2="442.27" y2="179.94" stroke="#c8102e" stroke-width="0.9"/>
<line x1="438.67" y1="191.89" x2="442.27" y2="191.89" stroke="#c8102e" stroke-width="0.9"/>
<line x1="457.53" y1="179.74" x2="457.53" y2="195.38" stroke="#c8102e" stroke-width="0.9"/>
<line x1="455.73" y1="179.74" x2="459.33" y2="179.74" stroke="#c8102e" stroke-width="0.9"/>
<line x1="455.73" y1="195.38" x2="459.33" y2="195.38" stroke="#c8102e" stroke-width="0.9"/>
<line x1="474.6" y1="188.53" x2="474.6" y2="193.3" stroke="#c8102e" stroke-width="0.9"/>
<line x1="472.8" y1="188.53" x2="476.4" y2="188.53" stroke="#c8102e" stroke-width="0.9"/>
<line x1="472.8" y1="193.3" x2="476.4" y2="193.3" stroke="#c8102e" stroke-width="0.9"/>
<path d="M423.4,165.71 L440.47,172.36 L457.53,175.31 L474.6,180.41" fill="none" stroke="#2bb04a" stroke-width="1.4"/>
<circle cx="423.4" cy="165.71" r="1.9" fill="#2bb04a"/>
<circle cx="440.47" cy="172.36" r="1.9" fill="#2bb04a"/>
<circle cx="457.53" cy="175.31" r="1.9" fill="#2bb04a"/>
<circle cx="474.6" cy="180.41" r="1.9" fill="#2bb04a"/>
<path d="M423.4,178.13 L440.47,186.12 L457.53,187.73 L474.6,191.02" fill="none" stroke="#c8102e" stroke-width="1.4"/>
<circle cx="423.4" cy="178.13" r="1.9" fill="#c8102e"/>
<circle cx="440.47" cy="186.12" r="1.9" fill="#c8102e"/>
<circle cx="457.53" cy="187.73" r="1.9" fill="#c8102e"/>
<circle cx="474.6" cy="191.02" r="1.9" fill="#c8102e"/>
<line x1="414.6" y1="142" x2="414.6" y2="199" stroke="#1a1a1a" stroke-width="1.25"/>
<line x1="411.6" y1="198.4" x2="414.6" y2="198.4" stroke="#1a1a1a" stroke-width="1.25"/>
<text x="409.1" y="201.39" font-size="8.3" text-anchor="end" stroke="#1a1a1a" stroke-width="0.15">0</text>
<line x1="411.6" y1="184.97" x2="414.6" y2="184.97" stroke="#1a1a1a" stroke-width="1.25"/>
<text x="409.1" y="187.96" font-size="8.3" text-anchor="end" stroke="#1a1a1a" stroke-width="0.15">20</text>
<line x1="411.6" y1="171.55" x2="414.6" y2="171.55" stroke="#1a1a1a" stroke-width="1.25"/>
<text x="409.1" y="174.54" font-size="8.3" text-anchor="end" stroke="#1a1a1a" stroke-width="0.15">40</text>
<line x1="411.6" y1="158.12" x2="414.6" y2="158.12" stroke="#1a1a1a" stroke-width="1.25"/>
<text x="409.1" y="161.11" font-size="8.3" text-anchor="end" stroke="#1a1a1a" stroke-width="0.15">60</text>
<line x1="411.6" y1="144.7" x2="414.6" y2="144.7" stroke="#1a1a1a" stroke-width="1.25"/>
<text x="409.1" y="147.69" font-size="8.3" text-anchor="end" stroke="#1a1a1a" stroke-width="0.15">80</text>
<line x1="414" y1="198.4" x2="483.4" y2="198.4" stroke="#1a1a1a" stroke-width="1.25"/>
<line x1="423.4" y1="198.4" x2="423.4" y2="201.4" stroke="#1a1a1a" stroke-width="1.25"/>
<line x1="440.47" y1="198.4" x2="440.47" y2="201.4" stroke="#1a1a1a" stroke-width="1.25"/>
<line x1="457.53" y1="198.4" x2="457.53" y2="201.4" stroke="#1a1a1a" stroke-width="1.25"/>
<line x1="474.6" y1="198.4" x2="474.6" y2="201.4" stroke="#1a1a1a" stroke-width="1.25"/>
<text x="423.4" y="209.8" font-size="8" text-anchor="middle" stroke="#1a1a1a" stroke-width="0.15">4</text>
<text x="440.47" y="209.8" font-size="8" text-anchor="middle" stroke="#1a1a1a" stroke-width="0.15">8</text>
<text x="457.53" y="209.8" font-size="8" text-anchor="middle" stroke="#1a1a1a" stroke-width="0.15">12</text>
<text x="474.6" y="209.8" font-size="8" text-anchor="middle" stroke="#1a1a1a" stroke-width="0.15">16</text>
<text x="449" y="223.1" font-size="8.9" text-anchor="middle" stroke="#1a1a1a" stroke-width="0.15" textLength="21.6" lengthAdjust="spacingAndGlyphs">Weeks</text>
<text x="449.4" y="139.8" font-size="8.2" text-anchor="middle" stroke="#1a1a1a" stroke-width="0.15" textLength="43.5" lengthAdjust="spacingAndGlyphs">Myeloid cells</text>
<text x="423.4" y="151.7" font-size="7.5" text-anchor="middle" font-weight="bold">‡</text>
<text x="440.47" y="159.8" font-size="7.5" text-anchor="middle" font-weight="bold">‡‡</text>
<text x="457.53" y="165.1" font-size="7.5" text-anchor="middle" font-weight="bold">‡</text>
<text x="474.6" y="171.8" font-size="7.5" text-anchor="middle" font-weight="bold">‡</text>
<line x1="483" y1="145.5" x2="490.8" y2="145.5" stroke="#2bb04a" stroke-width="1.4"/>
<circle cx="486.9" cy="145.5" r="1.9" fill="#2bb04a"/>
<text x="494.7" y="147.9" font-size="8" stroke="#1a1a1a" stroke-width="0.15" textLength="12.3" lengthAdjust="spacingAndGlyphs">Ctrl</text>
<line x1="483" y1="154.7" x2="490.8" y2="154.7" stroke="#c8102e" stroke-width="1.4"/>
<circle cx="486.9" cy="154.7" r="1.9" fill="#c8102e"/>
<text x="494.7" y="157.1" font-size="8" stroke="#1a1a1a" stroke-width="0.15" textLength="18.8" lengthAdjust="spacingAndGlyphs">ATRA</text>
<text x="7" y="245.3" font-size="11.2" font-weight="bold">E</text>
<text x="16.9" y="290.5" font-size="8.2" text-anchor="middle" stroke="#1a1a1a" stroke-width="0.15" transform="rotate(-90 16.9 290.5)" textLength="44.3" lengthAdjust="spacingAndGlyphs">CD45.1+ (%)</text>
<rect x="53.1" y="296" width="9" height="22.4" fill="#a0d9a4"/>
<rect x="67.1" y="306.6" width="9.2" height="11.8" fill="#e08592"/>
<circle cx="57.5" cy="276.7" r="1.75" fill="#2bb04a"/>
<circle cx="57.5" cy="293.5" r="1.75" fill="#2bb04a"/>
<circle cx="55.5" cy="299.9" r="1.75" fill="#2bb04a"/>
<circle cx="59.8" cy="301.7" r="1.75" fill="#2bb04a"/>
<circle cx="57.5" cy="307.4" r="1.75" fill="#2bb04a"/>
<circle cx="69.3" cy="299.4" r="1.75" fill="#c8102e"/>
<circle cx="74.2" cy="301.7" r="1.75" fill="#c8102e"/>
<circle cx="71.7" cy="307.4" r="1.75" fill="#c8102e"/>
<circle cx="69.3" cy="310.8" r="1.75" fill="#c8102e"/>
<circle cx="74.2" cy="312.7" r="1.75" fill="#c8102e"/>
<line x1="57.6" y1="284.2" x2="57.6" y2="307.7" stroke="#1a1a1a" stroke-width="1"/>
<line x1="55.4" y1="284.2" x2="59.8" y2="284.2" stroke="#1a1a1a" stroke-width="1"/>
<line x1="55.4" y1="307.7" x2="59.8" y2="307.7" stroke="#1a1a1a" stroke-width="1"/>
<line x1="71.7" y1="300.9" x2="71.7" y2="311.7" stroke="#1a1a1a" stroke-width="1"/>
<line x1="69.5" y1="300.9" x2="73.9" y2="300.9" stroke="#1a1a1a" stroke-width="1"/>
<line x1="69.5" y1="311.7" x2="73.9" y2="311.7" stroke="#1a1a1a" stroke-width="1"/>
<line x1="47.4" y1="258.7" x2="47.4" y2="319" stroke="#1a1a1a" stroke-width="1.25"/>
<line x1="44.4" y1="318.4" x2="47.4" y2="318.4" stroke="#1a1a1a" stroke-width="1.25"/>
<text x="42" y="321.39" font-size="8.3" text-anchor="end" stroke="#1a1a1a" stroke-width="0.15">0.000</text>
<line x1="44.4" y1="304.15" x2="47.4" y2="304.15" stroke="#1a1a1a" stroke-width="1.25"/>
<text x="42" y="307.14" font-size="8.3" text-anchor="end" stroke="#1a1a1a" stroke-width="0.15">0.005</text>
<line x1="44.4" y1="289.9" x2="47.4" y2="289.9" stroke="#1a1a1a" stroke-width="1.25"/>
<text x="42" y="292.89" font-size="8.3" text-anchor="end" stroke="#1a1a1a" stroke-width="0.15">0.010</text>
<line x1="44.4" y1="275.65" x2="47.4" y2="275.65" stroke="#1a1a1a" stroke-width="1.25"/>
<text x="42" y="278.64" font-size="8.3" text-anchor="end" stroke="#1a1a1a" stroke-width="0.15">0.015</text>
<line x1="44.4" y1="261.4" x2="47.4" y2="261.4" stroke="#1a1a1a" stroke-width="1.25"/>
<text x="42" y="264.39" font-size="8.3" text-anchor="end" stroke="#1a1a1a" stroke-width="0.15">0.020</text>
<line x1="46.8" y1="318.4" x2="81.3" y2="318.4" stroke="#1a1a1a" stroke-width="1.25"/>
<line x1="64.5" y1="318.4" x2="64.5" y2="321.4" stroke="#1a1a1a" stroke-width="1.25"/>
<text x="64.5" y="331.5" font-size="8.5" text-anchor="middle" stroke="#1a1a1a" stroke-width="0.15" textLength="12.2" lengthAdjust="spacingAndGlyphs">4W</text>
<text x="64.7" y="251.8" font-size="7.8" text-anchor="middle" stroke="#1a1a1a" stroke-width="0.15" textLength="24.7" lengthAdjust="spacingAndGlyphs">LT-HSC</text>
<rect x="112.1" y="292.3" width="9.3" height="25.9" fill="#a0d9a4"/>
<rect x="126.8" y="308.4" width="8.8" height="9.8" fill="#e08592"/>
<circle cx="117.1" cy="272.8" r="1.75" fill="#2bb04a"/>
<circle cx="114" cy="290.6" r="1.75" fill="#2bb04a"/>
<circle cx="118.5" cy="293.5" r="1.75" fill="#2bb04a"/>
<circle cx="114" cy="297.7" r="1.75" fill="#2bb04a"/>
<circle cx="118.5" cy="300.9" r="1.75" fill="#2bb04a"/>
<circle cx="128.5" cy="302.7" r="1.75" fill="#c8102e"/>
<circle cx="132.5" cy="304.1" r="1.75" fill="#c8102e"/>
<circle cx="133" cy="307.7" r="1.75" fill="#c8102e"/>
<circle cx="128.5" cy="312.7" r="1.75" fill="#c8102e"/>
<circle cx="132" cy="313.4" r="1.75" fill="#c8102e"/>
<line x1="117.1" y1="280.6" x2="117.1" y2="302.7" stroke="#1a1a1a" stroke-width="1"/>
<line x1="114.9" y1="280.6" x2="119.3" y2="280.6" stroke="#1a1a1a" stroke-width="1"/>
<line x1="114.9" y1="302.7" x2="119.3" y2="302.7" stroke="#1a1a1a" stroke-width="1"/>
<line x1="131" y1="303.4" x2="131" y2="313.4" stroke="#1a1a1a" stroke-width="1"/>
<line x1="128.8" y1="303.4" x2="133.2" y2="303.4" stroke="#1a1a1a" stroke-width="1"/>
<line x1="128.8" y1="313.4" x2="133.2" y2="313.4" stroke="#1a1a1a" stroke-width="1"/>
<line x1="107.1" y1="259.3" x2="107.1" y2="318.8" stroke="#1a1a1a" stroke-width="1.25"/>
<line x1="104.1" y1="318.2" x2="107.1" y2="318.2" stroke="#1a1a1a" stroke-width="1.25"/>
<text x="101.7" y="321.19" font-size="8.3" text-anchor="end" stroke="#1a1a1a" stroke-width="0.15">0.00</text>
<line x1="104.1" y1="299.47" x2="107.1" y2="299.47" stroke="#1a1a1a" stroke-width="1.25"/>
<text x="101.7" y="302.45" font-size="8.3" text-anchor="end" stroke="#1a1a1a" stroke-width="0.15">0.02</text>
<line x1="104.1" y1="280.73" x2="107.1" y2="280.73" stroke="#1a1a1a" stroke-width="1.25"/>
<text x="101.7" y="283.72" font-size="8.3" text-anchor="end" stroke="#1a1a1a" stroke-width="0.15">0.04</text>
<line x1="104.1" y1="262" x2="107.1" y2="262" stroke="#1a1a1a" stroke-width="1.25"/>
<text x="101.7" y="264.99" font-size="8.3" text-anchor="end" stroke="#1a1a1a" stroke-width="0.15">0.06</text>
<line x1="106.5" y1="318.2" x2="140.5" y2="318.2" stroke="#1a1a1a" stroke-width="1.25"/>
<line x1="123.9" y1="318.2" x2="123.9" y2="321.2" stroke="#1a1a1a" stroke-width="1.25"/>
<text x="123.9" y="331.5" font-size="8.5" text-anchor="middle" stroke="#1a1a1a" stroke-width="0.15" textLength="12.2" lengthAdjust="spacingAndGlyphs">4W</text>
<text x="124.7" y="251.8" font-size="7.8" text-anchor="middle" stroke="#1a1a1a" stroke-width="0.15" textLength="25.9" lengthAdjust="spacingAndGlyphs">ST-HSC</text>
<text x="124.5" y="265.25" font-size="7.5" text-anchor="middle" font-weight="bold">‡</text>
<line x1="118.2" y1="268.1" x2="129.6" y2="268.1" stroke="#1a1a1a" stroke-width="1.1"/>
<rect x="171.7" y="289.9" width="9.4" height="28.5" fill="#a0d9a4"/>
<rect x="185.9" y="307" width="9" height="11.4" fill="#e08592"/>
<circle cx="176.4" cy="271" r="1.75" fill="#2bb04a"/>
<circle cx="176.4" cy="288" r="1.75" fill="#2bb04a"/>
<circle cx="173.5" cy="294.2" r="1.75" fill="#2bb04a"/>
<circle cx="177" cy="297" r="1.75" fill="#2bb04a"/>
<circle cx="179" cy="297.5" r="1.75" fill="#2bb04a"/>
<circle cx="190.2" cy="298.9" r="1.75" fill="#c8102e"/>
<circle cx="187.5" cy="303.7" r="1.75" fill="#c8102e"/>
<circle cx="192.5" cy="304.9" r="1.75" fill="#c8102e"/>
<circle cx="187.5" cy="312" r="1.75" fill="#c8102e"/>
<circle cx="192.5" cy="313.1" r="1.75" fill="#c8102e"/>
<line x1="176.4" y1="278.5" x2="176.4" y2="300.6" stroke="#1a1a1a" stroke-width="1"/>
<line x1="174.2" y1="278.5" x2="178.6" y2="278.5" stroke="#1a1a1a" stroke-width="1"/>
<line x1="174.2" y1="300.6" x2="178.6" y2="300.6" stroke="#1a1a1a" stroke-width="1"/>
<line x1="190.2" y1="300.6" x2="190.2" y2="313.1" stroke="#1a1a1a" stroke-width="1"/>
<line x1="188" y1="300.6" x2="192.4" y2="300.6" stroke="#1a1a1a" stroke-width="1"/>
<line x1="188" y1="313.1" x2="192.4" y2="313.1" stroke="#1a1a1a" stroke-width="1"/>
<line x1="166.4" y1="259.7" x2="166.4" y2="319" stroke="#1a1a1a" stroke-width="1.25"/>
<line x1="163.4" y1="318.4" x2="166.4" y2="318.4" stroke="#1a1a1a" stroke-width="1.25"/>
<text x="161" y="321.39" font-size="8.3" text-anchor="end" stroke="#1a1a1a" stroke-width="0.15">0.00</text>
<line x1="163.4" y1="299.73" x2="166.4" y2="299.73" stroke="#1a1a1a" stroke-width="1.25"/>
<text x="161" y="302.72" font-size="8.3" text-anchor="end" stroke="#1a1a1a" stroke-width="0.15">0.02</text>
<line x1="163.4" y1="281.07" x2="166.4" y2="281.07" stroke="#1a1a1a" stroke-width="1.25"/>
<text x="161" y="284.05" font-size="8.3" text-anchor="end" stroke="#1a1a1a" stroke-width="0.15">0.04</text>
<line x1="163.4" y1="262.4" x2="166.4" y2="262.4" stroke="#1a1a1a" stroke-width="1.25"/>
<text x="161" y="265.39" font-size="8.3" text-anchor="end" stroke="#1a1a1a" stroke-width="0.15">0.06</text>
<line x1="165.8" y1="318.4" x2="199.2" y2="318.4" stroke="#1a1a1a" stroke-width="1.25"/>
<line x1="183.1" y1="318.4" x2="183.1" y2="321.4" stroke="#1a1a1a" stroke-width="1.25"/>
<text x="183.1" y="331.5" font-size="8.5" text-anchor="middle" stroke="#1a1a1a" stroke-width="0.15" textLength="12.2" lengthAdjust="spacingAndGlyphs">4W</text>
<text x="184.5" y="251.8" font-size="7.8" text-anchor="middle" stroke="#1a1a1a" stroke-width="0.15" textLength="16.6" lengthAdjust="spacingAndGlyphs">MPP</text>
<text x="183.5" y="265.25" font-size="7.5" text-anchor="middle" font-weight="bold">‡</text>
<line x1="178.2" y1="268.1" x2="189.2" y2="268.1" stroke="#1a1a1a" stroke-width="1.1"/>
<rect x="235.7" y="288" width="9.1" height="30.9" fill="#a0d9a4"/>
<rect x="250" y="307.7" width="8.8" height="11.2" fill="#e08592"/>
<circle cx="240.2" cy="266.3" r="1.75" fill="#2bb04a"/>
<circle cx="237.5" cy="283.2" r="1.75" fill="#2bb04a"/>
<circle cx="242.5" cy="286.4" r="1.75" fill="#2bb04a"/>
<circle cx="237.5" cy="300.7" r="1.75" fill="#2bb04a"/>
<circle cx="242.5" cy="302.3" r="1.75" fill="#2bb04a"/>
<circle cx="254.5" cy="297" r="1.75" fill="#c8102e"/>
<circle cx="252" cy="306.6" r="1.75" fill="#c8102e"/>
<circle cx="257" cy="307.4" r="1.75" fill="#c8102e"/>
<circle cx="252.5" cy="311.4" r="1.75" fill="#c8102e"/>
<circle cx="256.5" cy="313" r="1.75" fill="#c8102e"/>
<line x1="240.2" y1="273.1" x2="240.2" y2="302.3" stroke="#1a1a1a" stroke-width="1"/>
<line x1="238" y1="273.1" x2="242.4" y2="273.1" stroke="#1a1a1a" stroke-width="1"/>
<line x1="238" y1="302.3" x2="242.4" y2="302.3" stroke="#1a1a1a" stroke-width="1"/>
<line x1="254.2" y1="300.7" x2="254.2" y2="315.1" stroke="#1a1a1a" stroke-width="1"/>
<line x1="252" y1="300.7" x2="256.4" y2="300.7" stroke="#1a1a1a" stroke-width="1"/>
<line x1="252" y1="315.1" x2="256.4" y2="315.1" stroke="#1a1a1a" stroke-width="1"/>
<line x1="230.4" y1="259.7" x2="230.4" y2="319.5" stroke="#1a1a1a" stroke-width="1.25"/>
<line x1="227.4" y1="318.9" x2="230.4" y2="318.9" stroke="#1a1a1a" stroke-width="1.25"/>
<text x="225" y="321.89" font-size="8.3" text-anchor="end" stroke="#1a1a1a" stroke-width="0.15">0.000</text>
<line x1="227.4" y1="300.07" x2="230.4" y2="300.07" stroke="#1a1a1a" stroke-width="1.25"/>
<text x="225" y="303.05" font-size="8.3" text-anchor="end" stroke="#1a1a1a" stroke-width="0.15">0.005</text>
<line x1="227.4" y1="281.23" x2="230.4" y2="281.23" stroke="#1a1a1a" stroke-width="1.25"/>
<text x="225" y="284.22" font-size="8.3" text-anchor="end" stroke="#1a1a1a" stroke-width="0.15">0.010</text>
<line x1="227.4" y1="262.4" x2="230.4" y2="262.4" stroke="#1a1a1a" stroke-width="1.25"/>
<text x="225" y="265.39" font-size="8.3" text-anchor="end" stroke="#1a1a1a" stroke-width="0.15">0.015</text>
<line x1="229.8" y1="318.9" x2="262.8" y2="318.9" stroke="#1a1a1a" stroke-width="1.25"/>
<line x1="247.3" y1="318.9" x2="247.3" y2="321.9" stroke="#1a1a1a" stroke-width="1.25"/>
<text x="247.3" y="331.5" font-size="8.5" text-anchor="middle" stroke="#1a1a1a" stroke-width="0.15" textLength="12.2" lengthAdjust="spacingAndGlyphs">4W</text>
<text x="247.4" y="251.8" font-size="7.8" text-anchor="middle" stroke="#1a1a1a" stroke-width="0.15" textLength="15.2" lengthAdjust="spacingAndGlyphs">HSC</text>
<text x="246.8" y="261.15" font-size="7.5" text-anchor="middle" font-weight="bold">‡</text>
<line x1="241.6" y1="264" x2="252.7" y2="264" stroke="#1a1a1a" stroke-width="1.1"/>
<rect x="117.9" y="338.25" width="5.5" height="5.5" fill="#a0d9a4"/>
<text x="126.4" y="343.64" font-size="8" stroke="#1a1a1a" stroke-width="0.15" textLength="12.3" lengthAdjust="spacingAndGlyphs">Ctrl</text>
<rect x="144.8" y="338.25" width="5.5" height="5.5" fill="#e08592"/>
<text x="153.3" y="343.64" font-size="8" stroke="#1a1a1a" stroke-width="0.15" textLength="19.2" lengthAdjust="spacingAndGlyphs">ATRA</text>
<text x="269.5" y="245.3" font-size="11.2" font-weight="bold">F</text>
<text x="283" y="288.35" font-size="8.2" text-anchor="middle" stroke="#1a1a1a" stroke-width="0.15" transform="rotate(-90 283 288.35)" textLength="50" lengthAdjust="spacingAndGlyphs">CD45.1+ (10<tspan dy="-3" font-size="5.5">4</tspan><tspan dy="3">)</tspan></text>
<rect x="310" y="292.3" width="8.8" height="26.1" fill="#a0d9a4"/>
<rect x="324.2" y="306.6" width="9.3" height="11.8" fill="#e08592"/>
<circle cx="314.5" cy="276.7" r="1.75" fill="#2bb04a"/>
<circle cx="312" cy="290.6" r="1.75" fill="#2bb04a"/>
<circle cx="317" cy="292.3" r="1.75" fill="#2bb04a"/>
<circle cx="314.5" cy="297.7" r="1.75" fill="#2bb04a"/>
<circle cx="314.5" cy="305.1" r="1.75" fill="#2bb04a"/>
<circle cx="328.8" cy="297.7" r="1.75" fill="#c8102e"/>
<circle cx="329" cy="303.4" r="1.75" fill="#c8102e"/>
<circle cx="326" cy="307" r="1.75" fill="#c8102e"/>
<circle cx="331.5" cy="309.8" r="1.75" fill="#c8102e"/>
<circle cx="328" cy="311.3" r="1.75" fill="#c8102e"/>
<line x1="314.5" y1="281.8" x2="314.5" y2="303.1" stroke="#1a1a1a" stroke-width="1"/>
<line x1="312.3" y1="281.8" x2="316.7" y2="281.8" stroke="#1a1a1a" stroke-width="1"/>
<line x1="312.3" y1="303.1" x2="316.7" y2="303.1" stroke="#1a1a1a" stroke-width="1"/>
<line x1="328.8" y1="300.9" x2="328.8" y2="311" stroke="#1a1a1a" stroke-width="1"/>
<line x1="326.6" y1="300.9" x2="331" y2="300.9" stroke="#1a1a1a" stroke-width="1"/>
<line x1="326.6" y1="311" x2="331" y2="311" stroke="#1a1a1a" stroke-width="1"/>
<line x1="305.4" y1="259.7" x2="305.4" y2="319" stroke="#1a1a1a" stroke-width="1.25"/>
<line x1="302.4" y1="318.4" x2="305.4" y2="318.4" stroke="#1a1a1a" stroke-width="1.25"/>
<text x="300" y="321.39" font-size="8.3" text-anchor="end" stroke="#1a1a1a" stroke-width="0.15">0.0</text>
<line x1="302.4" y1="304.4" x2="305.4" y2="304.4" stroke="#1a1a1a" stroke-width="1.25"/>
<text x="300" y="307.39" font-size="8.3" text-anchor="end" stroke="#1a1a1a" stroke-width="0.15">0.1</text>
<line x1="302.4" y1="290.4" x2="305.4" y2="290.4" stroke="#1a1a1a" stroke-width="1.25"/>
<text x="300" y="293.39" font-size="8.3" text-anchor="end" stroke="#1a1a1a" stroke-width="0.15">0.2</text>
<line x1="302.4" y1="276.4" x2="305.4" y2="276.4" stroke="#1a1a1a" stroke-width="1.25"/>
<text x="300" y="279.39" font-size="8.3" text-anchor="end" stroke="#1a1a1a" stroke-width="0.15">0.3</text>
<line x1="302.4" y1="262.4" x2="305.4" y2="262.4" stroke="#1a1a1a" stroke-width="1.25"/>
<text x="300" y="265.39" font-size="8.3" text-anchor="end" stroke="#1a1a1a" stroke-width="0.15">0.4</text>
<line x1="304.8" y1="318.4" x2="338" y2="318.4" stroke="#1a1a1a" stroke-width="1.25"/>
<line x1="321.7" y1="318.4" x2="321.7" y2="321.4" stroke="#1a1a1a" stroke-width="1.25"/>
<text x="321.7" y="331.5" font-size="8.5" text-anchor="middle" stroke="#1a1a1a" stroke-width="0.15" textLength="12.2" lengthAdjust="spacingAndGlyphs">4W</text>
<text x="321.6" y="251.8" font-size="7.8" text-anchor="middle" stroke="#1a1a1a" stroke-width="0.15" textLength="24.7" lengthAdjust="spacingAndGlyphs">LT-HSC</text>
<text x="323.5" y="268.55" font-size="7.5" text-anchor="middle" font-weight="bold">‡</text>
<line x1="317.8" y1="271.4" x2="329.2" y2="271.4" stroke="#1a1a1a" stroke-width="1.1"/>
<rect x="368.4" y="293.4" width="9.1" height="25.5" fill="#a0d9a4"/>
<rect x="382.7" y="310.3" width="9.1" height="8.6" fill="#e08592"/>
<circle cx="373" cy="281.6" r="1.75" fill="#2bb04a"/>
<circle cx="373.5" cy="287.5" r="1.75" fill="#2bb04a"/>
<circle cx="373" cy="295" r="1.75" fill="#2bb04a"/>
<circle cx="370.5" cy="299.4" r="1.75" fill="#2bb04a"/>
<circle cx="375" cy="303" r="1.75" fill="#2bb04a"/>
<circle cx="387" cy="303" r="1.75" fill="#c8102e"/>
<circle cx="385" cy="309.3" r="1.75" fill="#c8102e"/>
<circle cx="389.5" cy="310.6" r="1.75" fill="#c8102e"/>
<circle cx="387" cy="314.6" r="1.75" fill="#c8102e"/>
<circle cx="390" cy="315.1" r="1.75" fill="#c8102e"/>
<line x1="373" y1="284.3" x2="373" y2="302.3" stroke="#1a1a1a" stroke-width="1"/>
<line x1="370.8" y1="284.3" x2="375.2" y2="284.3" stroke="#1a1a1a" stroke-width="1"/>
<line x1="370.8" y1="302.3" x2="375.2" y2="302.3" stroke="#1a1a1a" stroke-width="1"/>
<line x1="387" y1="305.8" x2="387" y2="315" stroke="#1a1a1a" stroke-width="1"/>
<line x1="384.8" y1="305.8" x2="389.2" y2="305.8" stroke="#1a1a1a" stroke-width="1"/>
<line x1="384.8" y1="315" x2="389.2" y2="315" stroke="#1a1a1a" stroke-width="1"/>
<line x1="363.6" y1="259.3" x2="363.6" y2="319.5" stroke="#1a1a1a" stroke-width="1.25"/>
<line x1="360.6" y1="318.9" x2="363.6" y2="318.9" stroke="#1a1a1a" stroke-width="1.25"/>
<text x="358.2" y="321.89" font-size="8.3" text-anchor="end" stroke="#1a1a1a" stroke-width="0.15">0.0</text>
<line x1="360.6" y1="299.93" x2="363.6" y2="299.93" stroke="#1a1a1a" stroke-width="1.25"/>
<text x="358.2" y="302.92" font-size="8.3" text-anchor="end" stroke="#1a1a1a" stroke-width="0.15">0.5</text>
<line x1="360.6" y1="280.97" x2="363.6" y2="280.97" stroke="#1a1a1a" stroke-width="1.25"/>
<text x="358.2" y="283.95" font-size="8.3" text-anchor="end" stroke="#1a1a1a" stroke-width="0.15">1.0</text>
<line x1="360.6" y1="262" x2="363.6" y2="262" stroke="#1a1a1a" stroke-width="1.25"/>
<text x="358.2" y="264.99" font-size="8.3" text-anchor="end" stroke="#1a1a1a" stroke-width="0.15">1.5</text>
<line x1="363" y1="318.9" x2="396.6" y2="318.9" stroke="#1a1a1a" stroke-width="1.25"/>
<line x1="379.9" y1="318.9" x2="379.9" y2="321.9" stroke="#1a1a1a" stroke-width="1.25"/>
<text x="379.9" y="331.5" font-size="8.5" text-anchor="middle" stroke="#1a1a1a" stroke-width="0.15" textLength="12.2" lengthAdjust="spacingAndGlyphs">4W</text>
<text x="382.6" y="251.8" font-size="7.8" text-anchor="middle" stroke="#1a1a1a" stroke-width="0.15" textLength="25.9" lengthAdjust="spacingAndGlyphs">ST-HSC</text>
<text x="381.1" y="272.35" font-size="7.5" text-anchor="middle" font-weight="bold">‡‡</text>
<line x1="376.4" y1="275.2" x2="387" y2="275.2" stroke="#1a1a1a" stroke-width="1.1"/>
<rect x="426.3" y="291.8" width="9.1" height="27.1" fill="#a0d9a4"/>
<rect x="440.7" y="309" width="9.1" height="9.9" fill="#e08592"/>
<circle cx="429.8" cy="280" r="1.75" fill="#2bb04a"/>
<circle cx="432.5" cy="283.5" r="1.75" fill="#2bb04a"/>
<circle cx="428" cy="295" r="1.75" fill="#2bb04a"/>
<circle cx="431.5" cy="299.1" r="1.75" fill="#2bb04a"/>
<circle cx="433.5" cy="300.2" r="1.75" fill="#2bb04a"/>
<circle cx="445.3" cy="299.4" r="1.75" fill="#c8102e"/>
<circle cx="442.5" cy="309.3" r="1.75" fill="#c8102e"/>
<circle cx="446.5" cy="307.7" r="1.75" fill="#c8102e"/>
<circle cx="443.5" cy="314.1" r="1.75" fill="#c8102e"/>
<circle cx="447.5" cy="314.6" r="1.75" fill="#c8102e"/>
<line x1="431" y1="281.1" x2="431" y2="300.7" stroke="#1a1a1a" stroke-width="1"/>
<line x1="428.8" y1="281.1" x2="433.2" y2="281.1" stroke="#1a1a1a" stroke-width="1"/>
<line x1="428.8" y1="300.7" x2="433.2" y2="300.7" stroke="#1a1a1a" stroke-width="1"/>
<line x1="445" y1="303" x2="445" y2="314.6" stroke="#1a1a1a" stroke-width="1"/>
<line x1="442.8" y1="303" x2="447.2" y2="303" stroke="#1a1a1a" stroke-width="1"/>
<line x1="442.8" y1="314.6" x2="447.2" y2="314.6" stroke="#1a1a1a" stroke-width="1"/>
<line x1="421.2" y1="259.3" x2="421.2" y2="319.5" stroke="#1a1a1a" stroke-width="1.25"/>
<line x1="418.2" y1="318.9" x2="421.2" y2="318.9" stroke="#1a1a1a" stroke-width="1.25"/>
<text x="415.8" y="321.89" font-size="8.3" text-anchor="end" stroke="#1a1a1a" stroke-width="0.15">0.0</text>
<line x1="418.2" y1="299.93" x2="421.2" y2="299.93" stroke="#1a1a1a" stroke-width="1.25"/>
<text x="415.8" y="302.92" font-size="8.3" text-anchor="end" stroke="#1a1a1a" stroke-width="0.15">0.5</text>
<line x1="418.2" y1="280.97" x2="421.2" y2="280.97" stroke="#1a1a1a" stroke-width="1.25"/>
<text x="415.8" y="283.95" font-size="8.3" text-anchor="end" stroke="#1a1a1a" stroke-width="0.15">1.0</text>
<line x1="418.2" y1="262" x2="421.2" y2="262" stroke="#1a1a1a" stroke-width="1.25"/>
<text x="415.8" y="264.99" font-size="8.3" text-anchor="end" stroke="#1a1a1a" stroke-width="0.15">1.5</text>
<line x1="420.6" y1="318.9" x2="454.5" y2="318.9" stroke="#1a1a1a" stroke-width="1.25"/>
<line x1="438" y1="318.9" x2="438" y2="321.9" stroke="#1a1a1a" stroke-width="1.25"/>
<text x="438" y="331.5" font-size="8.5" text-anchor="middle" stroke="#1a1a1a" stroke-width="0.15" textLength="12.2" lengthAdjust="spacingAndGlyphs">4W</text>
<text x="442.5" y="251.8" font-size="7.8" text-anchor="middle" stroke="#1a1a1a" stroke-width="0.15" textLength="16.6" lengthAdjust="spacingAndGlyphs">MPP</text>
<text x="439.6" y="272.35" font-size="7.5" text-anchor="middle" font-weight="bold">‡‡</text>
<line x1="434.3" y1="275.2" x2="445.5" y2="275.2" stroke="#1a1a1a" stroke-width="1.1"/>
<rect x="484.3" y="282.7" width="9.1" height="36.2" fill="#a0d9a4"/>
<rect x="499.1" y="309.3" width="8.7" height="9.6" fill="#e08592"/>
<circle cx="487.5" cy="266" r="1.75" fill="#2bb04a"/>
<circle cx="491.5" cy="268.3" r="1.75" fill="#2bb04a"/>
<circle cx="487.5" cy="279.5" r="1.75" fill="#2bb04a"/>
<circle cx="487" cy="297.5" r="1.75" fill="#2bb04a"/>
<circle cx="491" cy="301.4" r="1.75" fill="#2bb04a"/>
<circle cx="503" cy="301.4" r="1.75" fill="#c8102e"/>
<circle cx="506" cy="302.6" r="1.75" fill="#c8102e"/>
<circle cx="501.5" cy="306.1" r="1.75" fill="#c8102e"/>
<circle cx="505.5" cy="307.4" r="1.75" fill="#c8102e"/>
<circle cx="503" cy="313.5" r="1.75" fill="#c8102e"/>
<line x1="489" y1="266.3" x2="489" y2="298.6" stroke="#1a1a1a" stroke-width="1"/>
<line x1="486.8" y1="266.3" x2="491.2" y2="266.3" stroke="#1a1a1a" stroke-width="1"/>
<line x1="486.8" y1="298.6" x2="491.2" y2="298.6" stroke="#1a1a1a" stroke-width="1"/>
<line x1="503.5" y1="303.4" x2="503.5" y2="314.6" stroke="#1a1a1a" stroke-width="1"/>
<line x1="501.3" y1="303.4" x2="505.7" y2="303.4" stroke="#1a1a1a" stroke-width="1"/>
<line x1="501.3" y1="314.6" x2="505.7" y2="314.6" stroke="#1a1a1a" stroke-width="1"/>
<line x1="479.5" y1="259.3" x2="479.5" y2="319.5" stroke="#1a1a1a" stroke-width="1.25"/>
<line x1="476.5" y1="318.9" x2="479.5" y2="318.9" stroke="#1a1a1a" stroke-width="1.25"/>
<text x="474.1" y="321.89" font-size="8.3" text-anchor="end" stroke="#1a1a1a" stroke-width="0.15">0.0</text>
<line x1="476.5" y1="299.93" x2="479.5" y2="299.93" stroke="#1a1a1a" stroke-width="1.25"/>
<text x="474.1" y="302.92" font-size="8.3" text-anchor="end" stroke="#1a1a1a" stroke-width="0.15">0.1</text>
<line x1="476.5" y1="280.97" x2="479.5" y2="280.97" stroke="#1a1a1a" stroke-width="1.25"/>
<text x="474.1" y="283.95" font-size="8.3" text-anchor="end" stroke="#1a1a1a" stroke-width="0.15">0.2</text>
<line x1="476.5" y1="262" x2="479.5" y2="262" stroke="#1a1a1a" stroke-width="1.25"/>
<text x="474.1" y="264.99" font-size="8.3" text-anchor="end" stroke="#1a1a1a" stroke-width="0.15">0.3</text>
<line x1="478.9" y1="318.9" x2="513" y2="318.9" stroke="#1a1a1a" stroke-width="1.25"/>
<line x1="496" y1="318.9" x2="496" y2="321.9" stroke="#1a1a1a" stroke-width="1.25"/>
<text x="496" y="331.5" font-size="8.5" text-anchor="middle" stroke="#1a1a1a" stroke-width="0.15" textLength="12.2" lengthAdjust="spacingAndGlyphs">4W</text>
<text x="498.1" y="251.8" font-size="7.8" text-anchor="middle" stroke="#1a1a1a" stroke-width="0.15" textLength="15.2" lengthAdjust="spacingAndGlyphs">HSC</text>
<text x="497.9" y="260.75" font-size="7.5" text-anchor="middle" font-weight="bold">‡</text>
<line x1="492.3" y1="263.6" x2="503.5" y2="263.6" stroke="#1a1a1a" stroke-width="1.1"/>
<rect x="378.5" y="338.25" width="5.5" height="5.5" fill="#a0d9a4"/>
<text x="387" y="343.64" font-size="8" stroke="#1a1a1a" stroke-width="0.15" textLength="12.3" lengthAdjust="spacingAndGlyphs">Ctrl</text>
<rect x="405.4" y="338.25" width="5.5" height="5.5" fill="#e08592"/>
<text x="413.9" y="343.64" font-size="8" stroke="#1a1a1a" stroke-width="0.15" textLength="19.2" lengthAdjust="spacingAndGlyphs">ATRA</text>
<text x="7.3" y="366.3" font-size="11.2" font-weight="bold">G</text>
<text x="85" y="366.6" font-size="7.6" text-anchor="middle" stroke="#1a1a1a" stroke-width="0.15" textLength="71.3" lengthAdjust="spacingAndGlyphs">Sorted CD45–TER119–</text>
<text x="17.2" y="408.7" font-size="8.3" text-anchor="middle" stroke="#1a1a1a" stroke-width="0.15" transform="rotate(-90 17.2 408.7)" textLength="67.7" lengthAdjust="spacingAndGlyphs">Relative mRNA (fold)</text>
<rect x="41.2" y="410.66" width="4.8" height="27.24" fill="#a0d9a4"/>
<rect x="48.5" y="428.17" width="4.9" height="9.73" fill="#e08592"/>
<rect x="61" y="410.93" width="4.8" height="26.97" fill="#a0d9a4"/>
<rect x="68.3" y="429.84" width="4.9" height="8.06" fill="#e08592"/>
<rect x="81" y="410.93" width="4.8" height="26.97" fill="#a0d9a4"/>
<rect x="88.3" y="427.89" width="4.9" height="10.01" fill="#e08592"/>
<rect x="101" y="410.66" width="4.8" height="27.24" fill="#a0d9a4"/>
<rect x="108.3" y="411.21" width="4.9" height="26.69" fill="#e08592"/>
<rect x="120.8" y="410.93" width="4.8" height="26.97" fill="#a0d9a4"/>
<rect x="128.1" y="416.22" width="4.9" height="21.68" fill="#e08592"/>
<line x1="43.6" y1="403.43" x2="43.6" y2="416.22" stroke="#1a1a1a" stroke-width="0.9"/>
<line x1="42.1" y1="403.43" x2="45.1" y2="403.43" stroke="#1a1a1a" stroke-width="0.9"/>
<line x1="42.1" y1="416.22" x2="45.1" y2="416.22" stroke="#1a1a1a" stroke-width="0.9"/>
<circle cx="43.6" cy="402.04" r="1.65" fill="#2bb04a"/>
<circle cx="44.1" cy="409.27" r="1.65" fill="#2bb04a"/>
<circle cx="43.2" cy="411.49" r="1.65" fill="#2bb04a"/>
<circle cx="43.9" cy="418.16" r="1.65" fill="#2bb04a"/>
<circle cx="50.95" cy="422.05" r="1.65" fill="#c8102e"/>
<circle cx="51.45" cy="425.67" r="1.65" fill="#c8102e"/>
<circle cx="50.55" cy="427.06" r="1.65" fill="#c8102e"/>
<circle cx="51.25" cy="430.39" r="1.65" fill="#c8102e"/>
<line x1="63.4" y1="405.37" x2="63.4" y2="415.66" stroke="#1a1a1a" stroke-width="0.9"/>
<line x1="61.9" y1="405.37" x2="64.9" y2="405.37" stroke="#1a1a1a" stroke-width="0.9"/>
<line x1="61.9" y1="415.66" x2="64.9" y2="415.66" stroke="#1a1a1a" stroke-width="0.9"/>
<circle cx="63.4" cy="405.1" r="1.65" fill="#2bb04a"/>
<circle cx="63.9" cy="407.32" r="1.65" fill="#2bb04a"/>
<circle cx="63" cy="415.38" r="1.65" fill="#2bb04a"/>
<circle cx="63.7" cy="417.33" r="1.65" fill="#2bb04a"/>
<circle cx="70.75" cy="424.83" r="1.65" fill="#c8102e"/>
<circle cx="71.25" cy="426.22" r="1.65" fill="#c8102e"/>
<circle cx="70.35" cy="431.78" r="1.65" fill="#c8102e"/>
<circle cx="71.05" cy="433.73" r="1.65" fill="#c8102e"/>
<line x1="90.75" y1="424" x2="90.75" y2="430.95" stroke="#1a1a1a" stroke-width="0.9"/>
<line x1="89.25" y1="424" x2="92.25" y2="424" stroke="#1a1a1a" stroke-width="0.9"/>
<line x1="89.25" y1="430.95" x2="92.25" y2="430.95" stroke="#1a1a1a" stroke-width="0.9"/>
<circle cx="83.4" cy="407.88" r="1.65" fill="#2bb04a"/>
<circle cx="83.9" cy="408.99" r="1.65" fill="#2bb04a"/>
<circle cx="83" cy="411.21" r="1.65" fill="#2bb04a"/>
<circle cx="83.7" cy="413.99" r="1.65" fill="#2bb04a"/>
<circle cx="90.75" cy="421.22" r="1.65" fill="#c8102e"/>
<circle cx="91.25" cy="425.11" r="1.65" fill="#c8102e"/>
<circle cx="90.35" cy="432.06" r="1.65" fill="#c8102e"/>
<line x1="103.4" y1="397.59" x2="103.4" y2="422.33" stroke="#1a1a1a" stroke-width="0.9"/>
<line x1="101.9" y1="397.59" x2="104.9" y2="397.59" stroke="#1a1a1a" stroke-width="0.9"/>
<line x1="101.9" y1="422.33" x2="104.9" y2="422.33" stroke="#1a1a1a" stroke-width="0.9"/>
<line x1="110.75" y1="413.44" x2="110.75" y2="418.44" stroke="#1a1a1a" stroke-width="0.9"/>
<line x1="109.25" y1="413.44" x2="112.25" y2="413.44" stroke="#1a1a1a" stroke-width="0.9"/>
<line x1="109.25" y1="418.44" x2="112.25" y2="418.44" stroke="#1a1a1a" stroke-width="0.9"/>
<circle cx="103.4" cy="397.59" r="1.65" fill="#2bb04a"/>
<circle cx="103.9" cy="408.15" r="1.65" fill="#2bb04a"/>
<circle cx="103" cy="410.38" r="1.65" fill="#2bb04a"/>
<circle cx="103.7" cy="425.95" r="1.65" fill="#2bb04a"/>
<circle cx="110.75" cy="404.82" r="1.65" fill="#c8102e"/>
<circle cx="111.25" cy="407.6" r="1.65" fill="#c8102e"/>
<circle cx="110.35" cy="411.77" r="1.65" fill="#c8102e"/>
<circle cx="111.05" cy="421.5" r="1.65" fill="#c8102e"/>
<line x1="123.2" y1="403.43" x2="123.2" y2="418.44" stroke="#1a1a1a" stroke-width="0.9"/>
<line x1="121.7" y1="403.43" x2="124.7" y2="403.43" stroke="#1a1a1a" stroke-width="0.9"/>
<line x1="121.7" y1="418.44" x2="124.7" y2="418.44" stroke="#1a1a1a" stroke-width="0.9"/>
<circle cx="123.2" cy="399.26" r="1.65" fill="#2bb04a"/>
<circle cx="123.7" cy="403.43" r="1.65" fill="#2bb04a"/>
<circle cx="122.8" cy="417.33" r="1.65" fill="#2bb04a"/>
<circle cx="123.5" cy="422.33" r="1.65" fill="#2bb04a"/>
<circle cx="130.55" cy="411.77" r="1.65" fill="#c8102e"/>
<circle cx="131.05" cy="413.99" r="1.65" fill="#c8102e"/>
<circle cx="130.15" cy="418.44" r="1.65" fill="#c8102e"/>
<circle cx="130.85" cy="419" r="1.65" fill="#c8102e"/>
<line x1="38.3" y1="379.6" x2="38.3" y2="438.5" stroke="#1a1a1a" stroke-width="1.25"/>
<line x1="35.3" y1="437.9" x2="38.3" y2="437.9" stroke="#1a1a1a" stroke-width="1.25"/>
<text x="32.5" y="440.85" font-size="8.2" text-anchor="end" stroke="#1a1a1a" stroke-width="0.15">0.0</text>
<line x1="35.3" y1="424" x2="38.3" y2="424" stroke="#1a1a1a" stroke-width="1.25"/>
<text x="32.5" y="426.95" font-size="8.2" text-anchor="end" stroke="#1a1a1a" stroke-width="0.15">0.5</text>
<line x1="35.3" y1="410.1" x2="38.3" y2="410.1" stroke="#1a1a1a" stroke-width="1.25"/>
<text x="32.5" y="413.05" font-size="8.2" text-anchor="end" stroke="#1a1a1a" stroke-width="0.15">1.0</text>
<line x1="35.3" y1="396.2" x2="38.3" y2="396.2" stroke="#1a1a1a" stroke-width="1.25"/>
<text x="32.5" y="399.15" font-size="8.2" text-anchor="end" stroke="#1a1a1a" stroke-width="0.15">1.5</text>
<line x1="35.3" y1="382.3" x2="38.3" y2="382.3" stroke="#1a1a1a" stroke-width="1.25"/>
<text x="32.5" y="385.25" font-size="8.2" text-anchor="end" stroke="#1a1a1a" stroke-width="0.15">2.0</text>
<line x1="37.7" y1="437.9" x2="135.6" y2="437.9" stroke="#1a1a1a" stroke-width="1.25"/>
<line x1="47.2" y1="437.9" x2="47.2" y2="440.9" stroke="#1a1a1a" stroke-width="1.25"/>
<line x1="67" y1="437.9" x2="67" y2="440.9" stroke="#1a1a1a" stroke-width="1.25"/>
<line x1="87" y1="437.9" x2="87" y2="440.9" stroke="#1a1a1a" stroke-width="1.25"/>
<line x1="107" y1="437.9" x2="107" y2="440.9" stroke="#1a1a1a" stroke-width="1.25"/>
<line x1="126.8" y1="437.9" x2="126.8" y2="440.9" stroke="#1a1a1a" stroke-width="1.25"/>
<text x="46.3" y="451.2" font-size="8.6" text-anchor="middle" stroke="#1a1a1a" stroke-width="0.15" textLength="9.8" lengthAdjust="spacingAndGlyphs">Kitl</text>
<text x="67" y="451.2" font-size="8.6" text-anchor="middle" stroke="#1a1a1a" stroke-width="0.15" textLength="12.2" lengthAdjust="spacingAndGlyphs">Igf1</text>
<text x="87" y="451.2" font-size="8.6" text-anchor="middle" stroke="#1a1a1a" stroke-width="0.15" textLength="14.2" lengthAdjust="spacingAndGlyphs">Ang</text>
<text x="106.5" y="451.2" font-size="8.6" text-anchor="middle" stroke="#1a1a1a" stroke-width="0.15" textLength="21" lengthAdjust="spacingAndGlyphs">Tgfβ1</text>
<text x="126" y="451.2" font-size="8.6" text-anchor="middle" stroke="#1a1a1a" stroke-width="0.15" textLength="18.2" lengthAdjust="spacingAndGlyphs">Icam1</text>
<text x="48.2" y="395.7" font-size="7.5" text-anchor="middle" font-weight="bold">*</text>
<line x1="44.8" y1="396" x2="51.2" y2="396" stroke="#1a1a1a" stroke-width="1.1"/>
<text x="67.6" y="399.5" font-size="7.5" text-anchor="middle" font-weight="bold">**</text>
<line x1="63.9" y1="399.8" x2="70.3" y2="399.8" stroke="#1a1a1a" stroke-width="1.1"/>
<text x="87.7" y="401.9" font-size="7.5" text-anchor="middle" font-weight="bold">**</text>
<line x1="84.3" y1="402.2" x2="90.8" y2="402.2" stroke="#1a1a1a" stroke-width="1.1"/>
<rect x="57.2" y="457.25" width="5.5" height="5.5" fill="#a0d9a4"/>
<text x="65.7" y="462.64" font-size="8" stroke="#1a1a1a" stroke-width="0.15" textLength="12.3" lengthAdjust="spacingAndGlyphs">Ctrl</text>
<rect x="84.1" y="457.25" width="5.5" height="5.5" fill="#e08592"/>
<text x="92.6" y="462.64" font-size="8" stroke="#1a1a1a" stroke-width="0.15" textLength="19.2" lengthAdjust="spacingAndGlyphs">ATRA</text>
<text x="153" y="366.6" font-size="11.2" font-weight="bold">H</text>
<text x="234.1" y="366.1" font-size="7.6" text-anchor="middle" stroke="#1a1a1a" stroke-width="0.15" textLength="57.6" lengthAdjust="spacingAndGlyphs">Sorted PDGFRα+</text>
<text x="162.3" y="409.15" font-size="8.3" text-anchor="middle" stroke="#1a1a1a" stroke-width="0.15" transform="rotate(-90 162.3 409.15)" textLength="68.5" lengthAdjust="spacingAndGlyphs">Relative mRNA (fold)</text>
<rect x="188.2" y="402.07" width="4.8" height="36.23" fill="#a0d9a4"/>
<rect x="195.5" y="424.76" width="4.9" height="13.54" fill="#e08592"/>
<rect x="208.2" y="402.07" width="4.8" height="36.23" fill="#a0d9a4"/>
<rect x="215.5" y="414.88" width="4.9" height="23.42" fill="#e08592"/>
<rect x="228.1" y="402.07" width="4.8" height="36.23" fill="#a0d9a4"/>
<rect x="235.4" y="418.54" width="4.9" height="19.76" fill="#e08592"/>
<rect x="248.3" y="400.6" width="4.8" height="37.7" fill="#a0d9a4"/>
<rect x="255.6" y="410.12" width="4.9" height="28.18" fill="#e08592"/>
<rect x="268.1" y="402.43" width="4.8" height="35.87" fill="#a0d9a4"/>
<rect x="275.4" y="405.73" width="4.9" height="32.57" fill="#e08592"/>
<line x1="190.6" y1="390.72" x2="190.6" y2="407.19" stroke="#1a1a1a" stroke-width="0.9"/>
<line x1="189.1" y1="390.72" x2="192.1" y2="390.72" stroke="#1a1a1a" stroke-width="0.9"/>
<line x1="189.1" y1="407.19" x2="192.1" y2="407.19" stroke="#1a1a1a" stroke-width="0.9"/>
<circle cx="190.6" cy="390.72" r="1.65" fill="#2bb04a"/>
<circle cx="191.1" cy="397.31" r="1.65" fill="#2bb04a"/>
<circle cx="190.2" cy="407.19" r="1.65" fill="#2bb04a"/>
<circle cx="190.9" cy="410.12" r="1.65" fill="#2bb04a"/>
<circle cx="197.95" cy="422.56" r="1.65" fill="#c8102e"/>
<circle cx="198.45" cy="424.76" r="1.65" fill="#c8102e"/>
<circle cx="197.55" cy="427.32" r="1.65" fill="#c8102e"/>
<line x1="210.6" y1="396.94" x2="210.6" y2="404.26" stroke="#1a1a1a" stroke-width="0.9"/>
<line x1="209.1" y1="396.94" x2="212.1" y2="396.94" stroke="#1a1a1a" stroke-width="0.9"/>
<line x1="209.1" y1="404.26" x2="212.1" y2="404.26" stroke="#1a1a1a" stroke-width="0.9"/>
<line x1="217.95" y1="412.68" x2="217.95" y2="418.17" stroke="#1a1a1a" stroke-width="0.9"/>
<line x1="216.45" y1="412.68" x2="219.45" y2="412.68" stroke="#1a1a1a" stroke-width="0.9"/>
<line x1="216.45" y1="418.17" x2="219.45" y2="418.17" stroke="#1a1a1a" stroke-width="0.9"/>
<circle cx="210.6" cy="396.94" r="1.65" fill="#2bb04a"/>
<circle cx="211.1" cy="398.41" r="1.65" fill="#2bb04a"/>
<circle cx="210.2" cy="404.26" r="1.65" fill="#2bb04a"/>
<circle cx="210.9" cy="407.19" r="1.65" fill="#2bb04a"/>
<circle cx="217.95" cy="412.68" r="1.65" fill="#c8102e"/>
<circle cx="218.45" cy="414.88" r="1.65" fill="#c8102e"/>
<circle cx="217.55" cy="420.37" r="1.65" fill="#c8102e"/>
<line x1="230.5" y1="390.72" x2="230.5" y2="411.95" stroke="#1a1a1a" stroke-width="0.9"/>
<line x1="229" y1="390.72" x2="232" y2="390.72" stroke="#1a1a1a" stroke-width="0.9"/>
<line x1="229" y1="411.95" x2="232" y2="411.95" stroke="#1a1a1a" stroke-width="0.9"/>
<line x1="237.85" y1="415.61" x2="237.85" y2="420" stroke="#1a1a1a" stroke-width="0.9"/>
<line x1="236.35" y1="415.61" x2="239.35" y2="415.61" stroke="#1a1a1a" stroke-width="0.9"/>
<line x1="236.35" y1="420" x2="239.35" y2="420" stroke="#1a1a1a" stroke-width="0.9"/>
<circle cx="230.5" cy="390.72" r="1.65" fill="#2bb04a"/>
<circle cx="231" cy="399.14" r="1.65" fill="#2bb04a"/>
<circle cx="230.1" cy="405.36" r="1.65" fill="#2bb04a"/>
<circle cx="230.8" cy="411.95" r="1.65" fill="#2bb04a"/>
<circle cx="237.85" cy="413.05" r="1.65" fill="#c8102e"/>
<circle cx="238.35" cy="416.34" r="1.65" fill="#c8102e"/>
<circle cx="237.45" cy="419.63" r="1.65" fill="#c8102e"/>
<circle cx="238.15" cy="422.2" r="1.65" fill="#c8102e"/>
<line x1="250.7" y1="390.72" x2="250.7" y2="410.85" stroke="#1a1a1a" stroke-width="0.9"/>
<line x1="249.2" y1="390.72" x2="252.2" y2="390.72" stroke="#1a1a1a" stroke-width="0.9"/>
<line x1="249.2" y1="410.85" x2="252.2" y2="410.85" stroke="#1a1a1a" stroke-width="0.9"/>
<line x1="258.05" y1="404.63" x2="258.05" y2="410.12" stroke="#1a1a1a" stroke-width="0.9"/>
<line x1="256.55" y1="404.63" x2="259.55" y2="404.63" stroke="#1a1a1a" stroke-width="0.9"/>
<line x1="256.55" y1="410.12" x2="259.55" y2="410.12" stroke="#1a1a1a" stroke-width="0.9"/>
<circle cx="250.7" cy="387.43" r="1.65" fill="#2bb04a"/>
<circle cx="251.2" cy="401.33" r="1.65" fill="#2bb04a"/>
<circle cx="250.3" cy="405.73" r="1.65" fill="#2bb04a"/>
<circle cx="251" cy="413.41" r="1.65" fill="#2bb04a"/>
<circle cx="258.05" cy="402.43" r="1.65" fill="#c8102e"/>
<circle cx="258.55" cy="409.75" r="1.65" fill="#c8102e"/>
<circle cx="257.65" cy="412.68" r="1.65" fill="#c8102e"/>
<circle cx="258.35" cy="415.97" r="1.65" fill="#c8102e"/>
<line x1="270.5" y1="396.21" x2="270.5" y2="402.8" stroke="#1a1a1a" stroke-width="0.9"/>
<line x1="269" y1="396.21" x2="272" y2="396.21" stroke="#1a1a1a" stroke-width="0.9"/>
<line x1="269" y1="402.8" x2="272" y2="402.8" stroke="#1a1a1a" stroke-width="0.9"/>
<line x1="277.85" y1="401.7" x2="277.85" y2="407.19" stroke="#1a1a1a" stroke-width="0.9"/>
<line x1="276.35" y1="401.7" x2="279.35" y2="401.7" stroke="#1a1a1a" stroke-width="0.9"/>
<line x1="276.35" y1="407.19" x2="279.35" y2="407.19" stroke="#1a1a1a" stroke-width="0.9"/>
<circle cx="270.5" cy="393.28" r="1.65" fill="#2bb04a"/>
<circle cx="271" cy="402.43" r="1.65" fill="#2bb04a"/>
<circle cx="270.1" cy="404.63" r="1.65" fill="#2bb04a"/>
<circle cx="270.8" cy="407.19" r="1.65" fill="#2bb04a"/>
<circle cx="277.85" cy="399.87" r="1.65" fill="#c8102e"/>
<circle cx="278.35" cy="405.73" r="1.65" fill="#c8102e"/>
<circle cx="277.45" cy="408.29" r="1.65" fill="#c8102e"/>
<line x1="185.7" y1="380.7" x2="185.7" y2="438.9" stroke="#1a1a1a" stroke-width="1.25"/>
<line x1="182.7" y1="438.3" x2="185.7" y2="438.3" stroke="#1a1a1a" stroke-width="1.25"/>
<text x="179.9" y="441.25" font-size="8.2" text-anchor="end" stroke="#1a1a1a" stroke-width="0.15">0.0</text>
<line x1="182.7" y1="420" x2="185.7" y2="420" stroke="#1a1a1a" stroke-width="1.25"/>
<text x="179.9" y="422.95" font-size="8.2" text-anchor="end" stroke="#1a1a1a" stroke-width="0.15">0.5</text>
<line x1="182.7" y1="401.7" x2="185.7" y2="401.7" stroke="#1a1a1a" stroke-width="1.25"/>
<text x="179.9" y="404.65" font-size="8.2" text-anchor="end" stroke="#1a1a1a" stroke-width="0.15">1.0</text>
<line x1="182.7" y1="383.4" x2="185.7" y2="383.4" stroke="#1a1a1a" stroke-width="1.25"/>
<text x="179.9" y="386.35" font-size="8.2" text-anchor="end" stroke="#1a1a1a" stroke-width="0.15">1.5</text>
<line x1="185.1" y1="438.3" x2="283" y2="438.3" stroke="#1a1a1a" stroke-width="1.25"/>
<line x1="194.2" y1="438.3" x2="194.2" y2="441.3" stroke="#1a1a1a" stroke-width="1.25"/>
<line x1="214.2" y1="438.3" x2="214.2" y2="441.3" stroke="#1a1a1a" stroke-width="1.25"/>
<line x1="234.1" y1="438.3" x2="234.1" y2="441.3" stroke="#1a1a1a" stroke-width="1.25"/>
<line x1="254.3" y1="438.3" x2="254.3" y2="441.3" stroke="#1a1a1a" stroke-width="1.25"/>
<line x1="274.1" y1="438.3" x2="274.1" y2="441.3" stroke="#1a1a1a" stroke-width="1.25"/>
<text x="194.3" y="451.2" font-size="8.6" text-anchor="middle" stroke="#1a1a1a" stroke-width="0.15" textLength="9.8" lengthAdjust="spacingAndGlyphs">Kitl</text>
<text x="213.4" y="451.2" font-size="8.6" text-anchor="middle" stroke="#1a1a1a" stroke-width="0.15" textLength="12.2" lengthAdjust="spacingAndGlyphs">Igf1</text>
<text x="232.5" y="451.2" font-size="8.6" text-anchor="middle" stroke="#1a1a1a" stroke-width="0.15" textLength="14.2" lengthAdjust="spacingAndGlyphs">Ang</text>
<text x="252.5" y="451.2" font-size="8.6" text-anchor="middle" stroke="#1a1a1a" stroke-width="0.15" textLength="21" lengthAdjust="spacingAndGlyphs">Tgfβ1</text>
<text x="273.4" y="451.2" font-size="8.6" text-anchor="middle" stroke="#1a1a1a" stroke-width="0.15" textLength="18.2" lengthAdjust="spacingAndGlyphs">Icam1</text>
<text x="193.8" y="387" font-size="7.5" text-anchor="middle" font-weight="bold">**</text>
<line x1="190.8" y1="387.3" x2="196.9" y2="387.3" stroke="#1a1a1a" stroke-width="1.1"/>
<text x="213.3" y="391.6" font-size="7.5" text-anchor="middle" font-weight="bold">**</text>
<line x1="210.1" y1="391.9" x2="216.4" y2="391.9" stroke="#1a1a1a" stroke-width="1.1"/>
<text x="233.3" y="387" font-size="7.5" text-anchor="middle" font-weight="bold">*</text>
<line x1="230.3" y1="387.3" x2="236.4" y2="387.3" stroke="#1a1a1a" stroke-width="1.1"/>
<rect x="207.6" y="457.05" width="5.5" height="5.5" fill="#a0d9a4"/>
<text x="216.1" y="462.44" font-size="8" stroke="#1a1a1a" stroke-width="0.15" textLength="12.3" lengthAdjust="spacingAndGlyphs">Ctrl</text>
<rect x="233.6" y="457.05" width="5.5" height="5.5" fill="#e08592"/>
<text x="242.1" y="462.44" font-size="8" stroke="#1a1a1a" stroke-width="0.15" textLength="19.2" lengthAdjust="spacingAndGlyphs">ATRA</text>
<text x="293.3" y="366.4" font-size="11.2" font-weight="bold">I</text>
<text x="301.5" y="366.4" font-size="9.5" font-weight="bold">i</text>
<text x="349.6" y="366.4" font-size="9.5" font-weight="bold">ii</text>
<text x="438.3" y="366.4" font-size="9.5" font-weight="bold">iii</text>
<text x="318.7" y="382.6" font-size="8.2" text-anchor="middle" stroke="#1a1a1a" stroke-width="0.15" textLength="25.5" lengthAdjust="spacingAndGlyphs"><tspan font-style="italic">Scf</tspan>-GFP</text>
<text x="409.9" y="366" font-size="8.2" text-anchor="middle" stroke="#1a1a1a" stroke-width="0.15" textLength="25.5" lengthAdjust="spacingAndGlyphs"><tspan font-style="italic">Scf</tspan>-GFP</text>
<text x="495.2" y="366" font-size="8.2" text-anchor="middle" stroke="#1a1a1a" stroke-width="0.15" textLength="25.5" lengthAdjust="spacingAndGlyphs"><tspan font-style="italic">Scf</tspan>-GFP</text>
<g transform="translate(305.2 395.3) scale(0.8)">
<path d="M0,0 C3,-3 7,-5.5 12,-6.5 C17,-7.5 23,-7.2 25.6,-4.5 C27.3,-2.5 26.2,1.6 22,2.1 L8,2.2 C4,2.2 1,1 0,0 Z" fill="#3dc08a" stroke="#333" stroke-width="0.62"/>
<circle cx="9.8" cy="-6.9" r="3.3" fill="#3dc08a" stroke="#333" stroke-width="0.62"/>
<path d="M25.5,-0.9 C29,-1.5 30.5,-5 29,-7.5 C28,-9 25.5,-10 23.3,-9.8" fill="none" stroke="#333" stroke-width="0.62"/>
<circle cx="6.5" cy="-2.3" r="0.6" fill="#222"/>
</g>
<line x1="317.9" y1="398.5" x2="317.9" y2="431.5" stroke="#1a1a1a" stroke-width="1"/>
<path d="M316.1,430.6 L317.9,434 L319.7,430.6 Z" fill="#1a1a1a"/>
<line x1="309.1" y1="401.9" x2="314.6" y2="401.9" stroke="#1a1a1a" stroke-width="0.8"/>
<path d="M313.8,400.7 L315.8,401.9 L313.8,403.1 Z" fill="#1a1a1a"/>
<line x1="321.6" y1="401.9" x2="325.9" y2="401.9" stroke="#e8262d" stroke-width="0.8"/>
<path d="M322.0,400.7 L320.2,401.9 L322.0,403.1 Z" fill="#e8262d"/>
<line x1="309.1" y1="406.75" x2="314.6" y2="406.75" stroke="#1a1a1a" stroke-width="0.8"/>
<path d="M313.8,405.55 L315.8,406.75 L313.8,407.95 Z" fill="#1a1a1a"/>
<line x1="321.6" y1="406.75" x2="325.9" y2="406.75" stroke="#e8262d" stroke-width="0.8"/>
<path d="M322.0,405.55 L320.2,406.75 L322.0,407.95 Z" fill="#e8262d"/>
<line x1="309.1" y1="411.6" x2="314.6" y2="411.6" stroke="#1a1a1a" stroke-width="0.8"/>
<path d="M313.8,410.4 L315.8,411.6 L313.8,412.8 Z" fill="#1a1a1a"/>
<line x1="321.6" y1="411.6" x2="325.9" y2="411.6" stroke="#e8262d" stroke-width="0.8"/>
<path d="M322.0,410.4 L320.2,411.6 L322.0,412.8 Z" fill="#e8262d"/>
<line x1="309.1" y1="416.45" x2="314.6" y2="416.45" stroke="#1a1a1a" stroke-width="0.8"/>
<path d="M313.8,415.25 L315.8,416.45 L313.8,417.65 Z" fill="#1a1a1a"/>
<line x1="321.6" y1="416.45" x2="325.9" y2="416.45" stroke="#e8262d" stroke-width="0.8"/>
<path d="M322.0,415.25 L320.2,416.45 L322.0,417.65 Z" fill="#e8262d"/>
<line x1="309.1" y1="421.3" x2="314.6" y2="421.3" stroke="#1a1a1a" stroke-width="0.8"/>
<path d="M313.8,420.1 L315.8,421.3 L313.8,422.5 Z" fill="#1a1a1a"/>
<line x1="321.6" y1="421.3" x2="325.9" y2="421.3" stroke="#e8262d" stroke-width="0.8"/>
<path d="M322.0,420.1 L320.2,421.3 L322.0,422.5 Z" fill="#e8262d"/>
<line x1="309.1" y1="426.15" x2="314.6" y2="426.15" stroke="#1a1a1a" stroke-width="0.8"/>
<path d="M313.8,424.95 L315.8,426.15 L313.8,427.35 Z" fill="#1a1a1a"/>
<line x1="321.6" y1="426.15" x2="325.9" y2="426.15" stroke="#e8262d" stroke-width="0.8"/>
<path d="M322.0,424.95 L320.2,426.15 L322.0,427.35 Z" fill="#e8262d"/>
<text x="307.2" y="415.7" font-size="7.6" text-anchor="middle" stroke="#1a1a1a" stroke-width="0.15" transform="rotate(-90 307.2 415.7)" textLength="25" lengthAdjust="spacingAndGlyphs">Corn oil</text>
<text x="333.2" y="416.2" font-size="7.6" text-anchor="middle" fill="#e8262d" stroke="#e8262d" stroke-width="0.15" transform="rotate(-90 333.2 416.2)" textLength="15.9" lengthAdjust="spacingAndGlyphs">ATRA</text>
<text x="318.4" y="441.2" font-size="8.4" text-anchor="middle" stroke="#1a1a1a" stroke-width="0.15" textLength="17.5" lengthAdjust="spacingAndGlyphs">FACS</text>
<rect x="396.8" y="405.92" width="7.3" height="31.58" fill="#a0d9a4"/>
<rect x="408" y="416.73" width="6.9" height="20.77" fill="#e08592"/>
<line x1="399.9" y1="396.23" x2="399.9" y2="414.51" stroke="#1a1a1a" stroke-width="0.9"/>
<line x1="398.3" y1="396.23" x2="401.5" y2="396.23" stroke="#1a1a1a" stroke-width="0.9"/>
<line x1="398.3" y1="414.51" x2="401.5" y2="414.51" stroke="#1a1a1a" stroke-width="0.9"/>
<circle cx="399.4" cy="390.3" r="1.65" fill="#2bb04a"/>
<circle cx="400.6" cy="395" r="1.65" fill="#2bb04a"/>
<circle cx="400.6" cy="403" r="1.65" fill="#2bb04a"/>
<circle cx="399.4" cy="407.7" r="1.65" fill="#2bb04a"/>
<circle cx="400.6" cy="409.3" r="1.65" fill="#2bb04a"/>
<circle cx="400" cy="412.7" r="1.65" fill="#2bb04a"/>
<circle cx="400" cy="417.8" r="1.65" fill="#2bb04a"/>
<line x1="411.4" y1="413.68" x2="411.4" y2="420.33" stroke="#1a1a1a" stroke-width="0.9"/>
<line x1="409.8" y1="413.68" x2="413" y2="413.68" stroke="#1a1a1a" stroke-width="0.9"/>
<line x1="409.8" y1="420.33" x2="413" y2="420.33" stroke="#1a1a1a" stroke-width="0.9"/>
<circle cx="409.5" cy="413.1" r="1.65" fill="#c8102e"/>
<circle cx="413.4" cy="413.1" r="1.65" fill="#c8102e"/>
<circle cx="411" cy="415.5" r="1.65" fill="#c8102e"/>
<circle cx="412" cy="418.6" r="1.65" fill="#c8102e"/>
<circle cx="410" cy="422.5" r="1.65" fill="#c8102e"/>
<line x1="391.6" y1="379.4" x2="391.6" y2="438.1" stroke="#1a1a1a" stroke-width="1.25"/>
<line x1="388.6" y1="437.5" x2="391.6" y2="437.5" stroke="#1a1a1a" stroke-width="1.25"/>
<text x="385.8" y="440.67" font-size="8.8" text-anchor="end" stroke="#1a1a1a" stroke-width="0.15">0</text>
<line x1="388.6" y1="423.65" x2="391.6" y2="423.65" stroke="#1a1a1a" stroke-width="1.25"/>
<text x="385.8" y="426.82" font-size="8.8" text-anchor="end" stroke="#1a1a1a" stroke-width="0.15">5</text>
<line x1="388.6" y1="409.8" x2="391.6" y2="409.8" stroke="#1a1a1a" stroke-width="1.25"/>
<text x="385.8" y="412.97" font-size="8.8" text-anchor="end" stroke="#1a1a1a" stroke-width="0.15">10</text>
<line x1="388.6" y1="395.95" x2="391.6" y2="395.95" stroke="#1a1a1a" stroke-width="1.25"/>
<text x="385.8" y="399.12" font-size="8.8" text-anchor="end" stroke="#1a1a1a" stroke-width="0.15">15</text>
<line x1="388.6" y1="382.1" x2="391.6" y2="382.1" stroke="#1a1a1a" stroke-width="1.25"/>
<text x="385.8" y="385.27" font-size="8.8" text-anchor="end" stroke="#1a1a1a" stroke-width="0.15">20</text>
<line x1="391" y1="437.5" x2="425" y2="437.5" stroke="#1a1a1a" stroke-width="1.25"/>
<line x1="405.6" y1="437.5" x2="405.6" y2="440.5" stroke="#1a1a1a" stroke-width="1.25"/>
<text x="405.6" y="384.9" font-size="7.5" text-anchor="middle" font-weight="bold">*</text>
<line x1="401.3" y1="385.2" x2="410.3" y2="385.2" stroke="#1a1a1a" stroke-width="1.1"/>
<text x="358.4" y="409.55" font-size="8.6" text-anchor="middle" stroke="#1a1a1a" stroke-width="0.15" transform="rotate(-90 358.4 409.55)" textLength="44.4" lengthAdjust="spacingAndGlyphs">Cell numbers</text>
<text x="369.2" y="408.5" font-size="8.6" text-anchor="middle" stroke="#1a1a1a" stroke-width="0.15" transform="rotate(-90 369.2 408.5)" textLength="48.1" lengthAdjust="spacingAndGlyphs">per leg (×10<tspan dy="-3.2" font-size="6">4</tspan><tspan dy="3.2">)</tspan></text>
<rect x="361.1" y="448.2" width="5.2" height="5.2" fill="#a0d9a4"/>
<text x="369.3" y="453.61" font-size="8.5" stroke="#1a1a1a" stroke-width="0.15" textLength="13.07" lengthAdjust="spacingAndGlyphs">Ctrl</text>
<rect x="388.2" y="448.2" width="5.2" height="5.2" fill="#e08592"/>
<text x="396.4" y="453.61" font-size="8.5" stroke="#1a1a1a" stroke-width="0.15" textLength="20.4" lengthAdjust="spacingAndGlyphs">ATRA</text>
<rect x="486.1" y="385.33" width="7" height="52.17" fill="#a0d9a4"/>
<rect x="497.3" y="400.05" width="6.9" height="37.45" fill="#e08592"/>
<line x1="489.6" y1="383.09" x2="489.6" y2="387.56" stroke="#1a1a1a" stroke-width="0.9"/>
<line x1="488" y1="383.09" x2="491.2" y2="383.09" stroke="#1a1a1a" stroke-width="0.9"/>
<line x1="488" y1="387.56" x2="491.2" y2="387.56" stroke="#1a1a1a" stroke-width="0.9"/>
<circle cx="489.2" cy="381.6" r="1.65" fill="#2bb04a"/>
<circle cx="488" cy="384.4" r="1.65" fill="#2bb04a"/>
<circle cx="490" cy="387.5" r="1.65" fill="#2bb04a"/>
<circle cx="487.5" cy="386" r="1.65" fill="#2bb04a"/>
<line x1="500.8" y1="397.44" x2="500.8" y2="402.84" stroke="#1a1a1a" stroke-width="0.9"/>
<line x1="499.2" y1="397.44" x2="502.4" y2="397.44" stroke="#1a1a1a" stroke-width="0.9"/>
<line x1="499.2" y1="402.84" x2="502.4" y2="402.84" stroke="#1a1a1a" stroke-width="0.9"/>
<circle cx="499.3" cy="397.6" r="1.65" fill="#c8102e"/>
<circle cx="502.4" cy="397.6" r="1.65" fill="#c8102e"/>
<circle cx="500.5" cy="400.7" r="1.65" fill="#c8102e"/>
<circle cx="500" cy="404.3" r="1.65" fill="#c8102e"/>
<line x1="479.1" y1="378.9" x2="479.1" y2="438.1" stroke="#1a1a1a" stroke-width="1.25"/>
<line x1="476.1" y1="437.5" x2="479.1" y2="437.5" stroke="#1a1a1a" stroke-width="1.25"/>
<text x="474.8" y="440.6" font-size="8.6" text-anchor="end" stroke="#1a1a1a" stroke-width="0.15">0</text>
<line x1="476.1" y1="418.87" x2="479.1" y2="418.87" stroke="#1a1a1a" stroke-width="1.25"/>
<text x="474.8" y="421.96" font-size="8.6" text-anchor="end" stroke="#1a1a1a" stroke-width="0.15">10000</text>
<line x1="476.1" y1="400.23" x2="479.1" y2="400.23" stroke="#1a1a1a" stroke-width="1.25"/>
<text x="474.8" y="403.33" font-size="8.6" text-anchor="end" stroke="#1a1a1a" stroke-width="0.15">20000</text>
<line x1="476.1" y1="381.6" x2="479.1" y2="381.6" stroke="#1a1a1a" stroke-width="1.25"/>
<text x="474.8" y="384.7" font-size="8.6" text-anchor="end" stroke="#1a1a1a" stroke-width="0.15">30000</text>
<line x1="478.5" y1="437.5" x2="511" y2="437.5" stroke="#1a1a1a" stroke-width="1.25"/>
<line x1="495.5" y1="437.5" x2="495.5" y2="440.5" stroke="#1a1a1a" stroke-width="1.25"/>
<text x="500.9" y="392.3" font-size="7.5" text-anchor="middle" font-weight="bold">**</text>
<text x="446.1" y="408.1" font-size="8.6" text-anchor="middle" stroke="#1a1a1a" stroke-width="0.15" transform="rotate(-90 446.1 408.1)" textLength="12" lengthAdjust="spacingAndGlyphs">MFI</text>
<rect x="459.5" y="448.3" width="5.2" height="5.2" fill="#a0d9a4"/>
<text x="467.7" y="453.7" font-size="8.5" stroke="#1a1a1a" stroke-width="0.15" textLength="13.07" lengthAdjust="spacingAndGlyphs">Ctrl</text>
<rect x="486.6" y="448.3" width="5.2" height="5.2" fill="#e08592"/>
<text x="494.8" y="453.7" font-size="8.5" stroke="#1a1a1a" stroke-width="0.15" textLength="20.4" lengthAdjust="spacingAndGlyphs">ATRA</text>
<text x="6.3" y="14.8" font-size="11" font-weight="bold">A</text>
<g transform="translate(17.8 31)">
<path d="M0,0 C3,-3 7,-5.5 12,-6.5 C17,-7.5 23,-7.2 25.6,-4.5 C27.3,-2.5 26.2,1.6 22,2.1 L8,2.2 C4,2.2 1,1 0,0 Z" fill="#a9a9a9" stroke="#5a5a5a" stroke-width="0.55"/>
<circle cx="9.8" cy="-6.9" r="3.3" fill="#a9a9a9" stroke="#5a5a5a" stroke-width="0.55"/>
<path d="M25.5,-0.9 C29,-1.5 30.5,-5 29,-7.5 C28,-9 25.5,-10 23.3,-9.8" fill="none" stroke="#5a5a5a" stroke-width="0.55"/>
<circle cx="6.5" cy="-2.3" r="0.6" fill="#222"/>
</g>
<text x="34.2" y="41" font-size="7" text-anchor="middle" stroke="#1a1a1a" stroke-width="0.15">CD45.2</text>
<line x1="32.1" y1="43" x2="32.1" y2="62.3" stroke="#1a1a1a" stroke-width="0.75"/>
<circle cx="32.1" cy="62.6" r="0.95" fill="#1a1a1a"/>
<line x1="25.5" y1="43.8" x2="30.3" y2="43.8" stroke="#1a1a1a" stroke-width="0.6"/>
<path d="M29.5,42.9 L31.3,43.8 L29.5,44.7 Z" fill="#1a1a1a"/>
<line x1="34.8" y1="43.8" x2="38.5" y2="43.8" stroke="#e8262d" stroke-width="0.65"/>
<path d="M35.2,42.9 L33.4,43.8 L35.2,44.7 Z" fill="#e8262d"/>
<line x1="25.5" y1="47.05" x2="30.3" y2="47.05" stroke="#1a1a1a" stroke-width="0.6"/>
<path d="M29.5,46.15 L31.3,47.05 L29.5,47.95 Z" fill="#1a1a1a"/>
<line x1="34.8" y1="47.05" x2="38.5" y2="47.05" stroke="#e8262d" stroke-width="0.65"/>
<path d="M35.2,46.15 L33.4,47.05 L35.2,47.95 Z" fill="#e8262d"/>
<line x1="25.5" y1="50.3" x2="30.3" y2="50.3" stroke="#1a1a1a" stroke-width="0.6"/>
<path d="M29.5,49.4 L31.3,50.3 L29.5,51.2 Z" fill="#1a1a1a"/>
<line x1="34.8" y1="50.3" x2="38.5" y2="50.3" stroke="#e8262d" stroke-width="0.65"/>
<path d="M35.2,49.4 L33.4,50.3 L35.2,51.2 Z" fill="#e8262d"/>
<line x1="25.5" y1="53.55" x2="30.3" y2="53.55" stroke="#1a1a1a" stroke-width="0.6"/>
<path d="M29.5,52.65 L31.3,53.55 L29.5,54.45 Z" fill="#1a1a1a"/>
<line x1="34.8" y1="53.55" x2="38.5" y2="53.55" stroke="#e8262d" stroke-width="0.65"/>
<path d="M35.2,52.65 L33.4,53.55 L35.2,54.45 Z" fill="#e8262d"/>
<line x1="25.5" y1="56.8" x2="30.3" y2="56.8" stroke="#1a1a1a" stroke-width="0.6"/>
<path d="M29.5,55.9 L31.3,56.8 L29.5,57.7 Z" fill="#1a1a1a"/>
<line x1="34.8" y1="56.8" x2="38.5" y2="56.8" stroke="#e8262d" stroke-width="0.65"/>
<path d="M35.2,55.9 L33.4,56.8 L35.2,57.7 Z" fill="#e8262d"/>
<line x1="25.5" y1="60.05" x2="30.3" y2="60.05" stroke="#1a1a1a" stroke-width="0.6"/>
<path d="M29.5,59.15 L31.3,60.05 L29.5,60.95 Z" fill="#1a1a1a"/>
<line x1="34.8" y1="60.05" x2="38.5" y2="60.05" stroke="#e8262d" stroke-width="0.65"/>
<path d="M35.2,59.15 L33.4,60.05 L35.2,60.95 Z" fill="#e8262d"/>
<text x="22.9" y="53.4" font-size="7" text-anchor="middle" stroke="#1a1a1a" stroke-width="0.15" transform="rotate(-90 22.9 53.4)" textLength="22.2" lengthAdjust="spacingAndGlyphs">Corn oil</text>
<text x="44.6" y="51.5" font-size="7" text-anchor="middle" fill="#e8262d" stroke="#e8262d" stroke-width="0.15" transform="rotate(-90 44.6 51.5)" textLength="15.8" lengthAdjust="spacingAndGlyphs">ATRA</text>
<g transform="translate(17.9 77.4)">
<path d="M0,0 C3,-3 7,-5.5 12,-6.5 C17,-7.5 23,-7.2 25.6,-4.5 C27.3,-2.5 26.2,1.6 22,2.1 L8,2.2 C4,2.2 1,1 0,0 Z" fill="#a9a9a9" stroke="#5a5a5a" stroke-width="0.55"/>
<circle cx="9.8" cy="-6.9" r="3.3" fill="#a9a9a9" stroke="#5a5a5a" stroke-width="0.55"/>
<circle cx="6.5" cy="-2.3" r="0.6" fill="#222"/>
<circle cx="15.6" cy="-1.2" r="4.6" fill="#f2e21c" stroke="#777" stroke-width="0.3"/>
<path d="M16.2,-2.24 L17.55,-4.58 A3.9,3.9 0 0 0 13.65,-4.58 L15,-2.24 A1.2,1.2 0 0 1 16.2,-2.24 Z" fill="#111"/>
<path d="M14.4,-1.2 L11.7,-1.2 A3.9,3.9 0 0 0 13.65,2.18 L15,-0.16 A1.2,1.2 0 0 1 14.4,-1.2 Z" fill="#111"/>
<path d="M16.2,-0.16 L17.55,2.18 A3.9,3.9 0 0 0 19.5,-1.2 L16.8,-1.2 A1.2,1.2 0 0 1 16.2,-0.16 Z" fill="#111"/>
<circle cx="15.6" cy="-1.2" r="0.7" fill="#111"/>
</g>
<path d="M43.3,76.6 C46.5,76 47,71.5 45.5,70 C44,68.8 41.5,68.8 40.6,68.6" fill="none" stroke="#5a5a5a" stroke-width="0.55"/>
<g transform="translate(41.2 67.8) rotate(-42)"><line x1="-1.5" y1="0" x2="0" y2="0" stroke="#777" stroke-width="0.5"/><rect x="0" y="-0.9" width="9.5" height="1.8" fill="#fff" stroke="#666" stroke-width="0.45"/><rect x="9.5" y="-1.2" width="1.2" height="2.4" fill="#f0a040"/></g>
<circle cx="53.2" cy="69.5" r="1.45" fill="#1e90d8" stroke="#0e5d95" stroke-width="0.35"/>
<circle cx="55.8" cy="71.2" r="1.45" fill="#1e90d8" stroke="#0e5d95" stroke-width="0.35"/>
<circle cx="50.6" cy="71.9" r="1.45" fill="#1e90d8" stroke="#0e5d95" stroke-width="0.35"/>
<circle cx="53.7" cy="73.9" r="1.45" fill="#1e90d8" stroke="#0e5d95" stroke-width="0.35"/>
<circle cx="56.8" cy="75" r="1.45" fill="#1e90d8" stroke="#0e5d95" stroke-width="0.35"/>
<circle cx="52.7" cy="76.4" r="1.45" fill="#1e90d8" stroke="#0e5d95" stroke-width="0.35"/>
<text x="60.6" y="75.4" font-size="7" stroke="#1a1a1a" stroke-width="0.15">CD45.1+</text>
<text x="34.4" y="89.3" font-size="7" text-anchor="middle" stroke="#1a1a1a" stroke-width="0.15">CD45.2</text>
<line x1="31.9" y1="92.7" x2="31.9" y2="102.5" stroke="#1a1a1a" stroke-width="0.7"/>
<path d="M30.6,102.2 L31.9,104.6 L33.2,102.2 Z" fill="#1a1a1a"/>
<text x="39.4" y="100.5" font-size="7" stroke="#1a1a1a" stroke-width="0.15">8W</text>
<text x="32.2" y="112.1" font-size="7" text-anchor="middle" stroke="#1a1a1a" stroke-width="0.15">Recovered</text>
<text x="32" y="119.9" font-size="7" text-anchor="middle" stroke="#1a1a1a" stroke-width="0.15">CD45.1+</text>
<line x1="50" y1="117.4" x2="58.8" y2="117.4" stroke="#1a1a1a" stroke-width="0.7"/>
<path d="M58,116.2 L60.6,117.4 L58,118.6 Z" fill="#1a1a1a"/>
<text x="63.2" y="119.8" font-size="6.6" stroke="#1a1a1a" stroke-width="0.15">FACS</text>
<circle cx="32.4" cy="123.4" r="1.45" fill="#1e90d8" stroke="#0e5d95" stroke-width="0.35"/>
<circle cx="35" cy="125.1" r="1.45" fill="#1e90d8" stroke="#0e5d95" stroke-width="0.35"/>
<circle cx="29.8" cy="125.8" r="1.45" fill="#1e90d8" stroke="#0e5d95" stroke-width="0.35"/>
<circle cx="32.9" cy="127.8" r="1.45" fill="#1e90d8" stroke="#0e5d95" stroke-width="0.35"/>
<circle cx="36" cy="128.9" r="1.45" fill="#1e90d8" stroke="#0e5d95" stroke-width="0.35"/>
<circle cx="31.9" cy="130.3" r="1.45" fill="#1e90d8" stroke="#0e5d95" stroke-width="0.35"/>
<text x="43.7" y="131" font-size="5.5" text-anchor="middle" font-weight="bold" fill="#555">+</text>
<circle cx="53.4" cy="123.4" r="1.45" fill="#f0a030" stroke="#b06010" stroke-width="0.35"/>
<circle cx="56" cy="125.1" r="1.45" fill="#f0a030" stroke="#b06010" stroke-width="0.35"/>
<circle cx="50.8" cy="125.8" r="1.45" fill="#f0a030" stroke="#b06010" stroke-width="0.35"/>
<circle cx="53.9" cy="127.8" r="1.45" fill="#f0a030" stroke="#b06010" stroke-width="0.35"/>
<circle cx="57" cy="128.9" r="1.45" fill="#f0a030" stroke="#b06010" stroke-width="0.35"/>
<circle cx="52.9" cy="130.3" r="1.45" fill="#f0a030" stroke="#b06010" stroke-width="0.35"/>
<text x="59.4" y="129.3" font-size="7" stroke="#1a1a1a" stroke-width="0.15">CD45.2+</text>
<text x="44.4" y="139.2" font-size="7" text-anchor="middle" stroke="#1a1a1a" stroke-width="0.15">(5 : 1)</text>
<g transform="translate(18 153.2)">
<path d="M0,0 C3,-3 7,-5.5 12,-6.5 C17,-7.5 23,-7.2 25.6,-4.5 C27.3,-2.5 26.2,1.6 22,2.1 L8,2.2 C4,2.2 1,1 0,0 Z" fill="#a9a9a9" stroke="#5a5a5a" stroke-width="0.55"/>
<circle cx="9.8" cy="-6.9" r="3.3" fill="#a9a9a9" stroke="#5a5a5a" stroke-width="0.55"/>
<circle cx="6.5" cy="-2.3" r="0.6" fill="#222"/>
<circle cx="15.6" cy="-1.2" r="4.6" fill="#f2e21c" stroke="#777" stroke-width="0.3"/>
<path d="M16.2,-2.24 L17.55,-4.58 A3.9,3.9 0 0 0 13.65,-4.58 L15,-2.24 A1.2,1.2 0 0 1 16.2,-2.24 Z" fill="#111"/>
<path d="M14.4,-1.2 L11.7,-1.2 A3.9,3.9 0 0 0 13.65,2.18 L15,-0.16 A1.2,1.2 0 0 1 14.4,-1.2 Z" fill="#111"/>
<path d="M16.2,-0.16 L17.55,2.18 A3.9,3.9 0 0 0 19.5,-1.2 L16.8,-1.2 A1.2,1.2 0 0 1 16.2,-0.16 Z" fill="#111"/>
<circle cx="15.6" cy="-1.2" r="0.7" fill="#111"/>
</g>
<path d="M43.4,152.4 C46.5,151.8 47,147 45.5,145.6 C44,144.2 41.5,143.6 39.3,143.4" fill="none" stroke="#5a5a5a" stroke-width="0.55"/>
<g transform="translate(45.3 144.7) rotate(-8)"><line x1="-1.5" y1="0" x2="0" y2="0" stroke="#777" stroke-width="0.5"/><rect x="0" y="-0.9" width="9.5" height="1.8" fill="#fff" stroke="#666" stroke-width="0.45"/><rect x="9.5" y="-1.2" width="1.2" height="2.4" fill="#f0a040"/></g>
<text x="34.2" y="162.9" font-size="7" text-anchor="middle" stroke="#1a1a1a" stroke-width="0.15">CD45.2</text>
<line x1="31.9" y1="164.9" x2="31.9" y2="176.5" stroke="#1a1a1a" stroke-width="0.7"/>
<path d="M30.6,176.2 L31.9,178.6 L33.2,176.2 Z" fill="#1a1a1a"/>
<text x="39.4" y="171" font-size="7" stroke="#1a1a1a" stroke-width="0.15">4W</text>
<line x1="49.8" y1="168.5" x2="58.8" y2="168.5" stroke="#1a1a1a" stroke-width="0.7"/>
<path d="M58,167.3 L60.6,168.5 L58,169.7 Z" fill="#1a1a1a"/>
<text x="63.2" y="171" font-size="6.6" stroke="#1a1a1a" stroke-width="0.15">FACS</text>
<text x="32" y="186.5" font-size="7" text-anchor="middle" stroke="#1a1a1a" stroke-width="0.15">Engraftment</text>
<rect x="0.5" y="0.5" width="519" height="469" fill="none" stroke="#000" stroke-width="1.2"/>
</svg></body></html>
